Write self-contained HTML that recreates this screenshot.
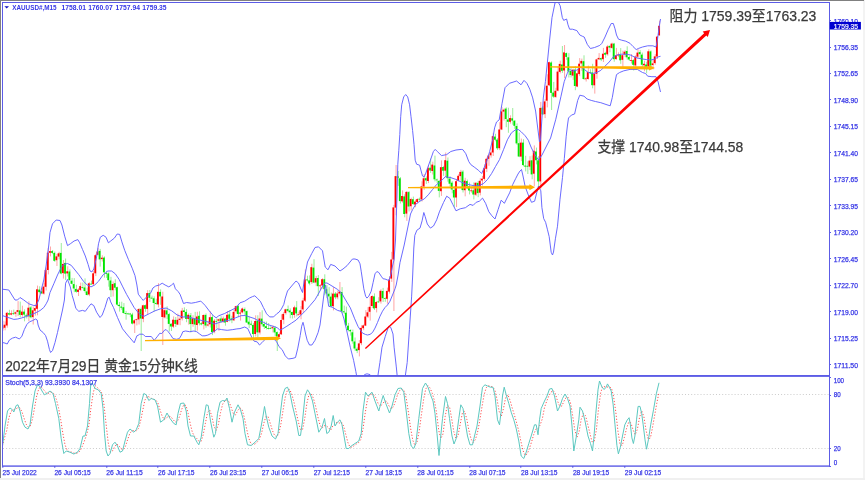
<!DOCTYPE html><html><head><meta charset="utf-8"><style>html,body{margin:0;padding:0;background:#fff;}svg{display:block;filter:blur(0.3px)}</style></head><body>
<svg width="865" height="480" viewBox="0 0 865 480">
<defs><clipPath id="mc"><rect x="3" y="3" width="826" height="372"/></clipPath><clipPath id="sc"><rect x="3" y="377" width="826" height="88"/></clipPath></defs>
<rect x="0" y="0" width="865" height="480" fill="#fff"/>
<rect x="863" y="0" width="2" height="480" fill="#f3f3f3"/>
<rect x="0" y="478" width="865" height="2" fill="#f0f0f0"/>
<rect x="0" y="0" width="864" height="1" fill="#808080"/>
<rect x="0" y="0" width="1" height="478" fill="#808080"/>
<rect x="2" y="2" width="828" height="1" fill="#5c5ce6"/>
<rect x="2" y="2" width="1" height="464.8" fill="#5c5ce6"/>
<rect x="829" y="2" width="1" height="464.8" fill="#5c5ce6"/>
<rect x="2" y="465.4" width="828" height="1.4" fill="#5c5ce6"/>
<rect x="2" y="375" width="827" height="1.9" fill="#5c5ce6"/>
<line x1="3" y1="394.5" x2="829" y2="394.5" stroke="#cccccc" stroke-width="1" stroke-dasharray="1,2.1"/>
<line x1="3" y1="448.5" x2="829" y2="448.5" stroke="#cccccc" stroke-width="1" stroke-dasharray="1,2.1"/>
<g clip-path="url(#mc)">
<line x1="2.96" y1="320.8" x2="2.96" y2="330.7" stroke="#ff9a9a" stroke-width="0.9"/>
<line x1="5.12" y1="321.4" x2="5.12" y2="330.3" stroke="#ff9a9a" stroke-width="0.9"/>
<line x1="7.28" y1="311.9" x2="7.28" y2="327.7" stroke="#ff9a9a" stroke-width="0.9"/>
<line x1="9.44" y1="309.8" x2="9.44" y2="315.4" stroke="#8eea8e" stroke-width="0.9"/>
<line x1="11.60" y1="310.3" x2="11.60" y2="315.3" stroke="#ff9a9a" stroke-width="0.9"/>
<line x1="13.76" y1="309.6" x2="13.76" y2="314.9" stroke="#8eea8e" stroke-width="0.9"/>
<line x1="15.92" y1="311.4" x2="15.92" y2="316.8" stroke="#ff9a9a" stroke-width="0.9"/>
<line x1="18.08" y1="301.1" x2="18.08" y2="316.0" stroke="#ff9a9a" stroke-width="0.9"/>
<line x1="20.24" y1="301.6" x2="20.24" y2="317.3" stroke="#8eea8e" stroke-width="0.9"/>
<line x1="22.40" y1="305.7" x2="22.40" y2="316.8" stroke="#ff9a9a" stroke-width="0.9"/>
<line x1="24.56" y1="309.4" x2="24.56" y2="321.3" stroke="#8eea8e" stroke-width="0.9"/>
<line x1="26.72" y1="313.4" x2="26.72" y2="318.5" stroke="#8eea8e" stroke-width="0.9"/>
<line x1="28.88" y1="301.3" x2="28.88" y2="321.3" stroke="#ff9a9a" stroke-width="0.9"/>
<line x1="31.04" y1="306.0" x2="31.04" y2="318.4" stroke="#8eea8e" stroke-width="0.9"/>
<line x1="33.20" y1="306.6" x2="33.20" y2="324.5" stroke="#ff9a9a" stroke-width="0.9"/>
<line x1="35.36" y1="303.7" x2="35.36" y2="315.6" stroke="#ff9a9a" stroke-width="0.9"/>
<line x1="37.52" y1="285.6" x2="37.52" y2="315.3" stroke="#ff9a9a" stroke-width="0.9"/>
<line x1="39.68" y1="286.3" x2="39.68" y2="293.5" stroke="#8eea8e" stroke-width="0.9"/>
<line x1="41.84" y1="288.0" x2="41.84" y2="294.1" stroke="#8eea8e" stroke-width="0.9"/>
<line x1="44.00" y1="282.9" x2="44.00" y2="294.6" stroke="#ff9a9a" stroke-width="0.9"/>
<line x1="46.16" y1="267.6" x2="46.16" y2="290.5" stroke="#ff9a9a" stroke-width="0.9"/>
<line x1="48.32" y1="248.0" x2="48.32" y2="274.4" stroke="#ff9a9a" stroke-width="0.9"/>
<line x1="50.48" y1="246.5" x2="50.48" y2="256.4" stroke="#ff9a9a" stroke-width="0.9"/>
<line x1="52.64" y1="250.0" x2="52.64" y2="254.1" stroke="#8eea8e" stroke-width="0.9"/>
<line x1="54.80" y1="251.5" x2="54.80" y2="261.9" stroke="#8eea8e" stroke-width="0.9"/>
<line x1="56.96" y1="253.9" x2="56.96" y2="266.0" stroke="#ff9a9a" stroke-width="0.9"/>
<line x1="59.12" y1="251.8" x2="59.12" y2="259.3" stroke="#ff9a9a" stroke-width="0.9"/>
<line x1="61.28" y1="243.0" x2="61.28" y2="274.3" stroke="#8eea8e" stroke-width="0.9"/>
<line x1="63.44" y1="260.0" x2="63.44" y2="278.6" stroke="#ff9a9a" stroke-width="0.9"/>
<line x1="65.60" y1="258.5" x2="65.60" y2="280.0" stroke="#8eea8e" stroke-width="0.9"/>
<line x1="67.76" y1="266.3" x2="67.76" y2="276.5" stroke="#ff9a9a" stroke-width="0.9"/>
<line x1="69.92" y1="269.4" x2="69.92" y2="281.2" stroke="#8eea8e" stroke-width="0.9"/>
<line x1="72.08" y1="277.9" x2="72.08" y2="284.4" stroke="#8eea8e" stroke-width="0.9"/>
<line x1="74.24" y1="278.1" x2="74.24" y2="292.2" stroke="#8eea8e" stroke-width="0.9"/>
<line x1="76.40" y1="284.8" x2="76.40" y2="292.7" stroke="#8eea8e" stroke-width="0.9"/>
<line x1="78.56" y1="288.2" x2="78.56" y2="296.0" stroke="#ff9a9a" stroke-width="0.9"/>
<line x1="80.72" y1="282.6" x2="80.72" y2="291.1" stroke="#ff9a9a" stroke-width="0.9"/>
<line x1="82.88" y1="282.5" x2="82.88" y2="288.7" stroke="#8eea8e" stroke-width="0.9"/>
<line x1="85.04" y1="278.4" x2="85.04" y2="292.6" stroke="#8eea8e" stroke-width="0.9"/>
<line x1="87.20" y1="287.6" x2="87.20" y2="295.5" stroke="#8eea8e" stroke-width="0.9"/>
<line x1="89.36" y1="282.2" x2="89.36" y2="296.2" stroke="#ff9a9a" stroke-width="0.9"/>
<line x1="91.52" y1="280.6" x2="91.52" y2="284.4" stroke="#8eea8e" stroke-width="0.9"/>
<line x1="93.68" y1="271.0" x2="93.68" y2="285.3" stroke="#ff9a9a" stroke-width="0.9"/>
<line x1="95.84" y1="253.9" x2="95.84" y2="276.1" stroke="#ff9a9a" stroke-width="0.9"/>
<line x1="98.00" y1="248.0" x2="98.00" y2="255.3" stroke="#ff9a9a" stroke-width="0.9"/>
<line x1="100.16" y1="248.9" x2="100.16" y2="266.6" stroke="#8eea8e" stroke-width="0.9"/>
<line x1="102.32" y1="255.3" x2="102.32" y2="261.5" stroke="#ff9a9a" stroke-width="0.9"/>
<line x1="104.48" y1="256.4" x2="104.48" y2="277.6" stroke="#8eea8e" stroke-width="0.9"/>
<line x1="106.64" y1="270.9" x2="106.64" y2="277.9" stroke="#8eea8e" stroke-width="0.9"/>
<line x1="108.80" y1="272.2" x2="108.80" y2="286.7" stroke="#8eea8e" stroke-width="0.9"/>
<line x1="110.96" y1="276.8" x2="110.96" y2="297.0" stroke="#8eea8e" stroke-width="0.9"/>
<line x1="113.12" y1="281.4" x2="113.12" y2="296.5" stroke="#ff9a9a" stroke-width="0.9"/>
<line x1="115.28" y1="279.2" x2="115.28" y2="290.3" stroke="#8eea8e" stroke-width="0.9"/>
<line x1="117.44" y1="286.6" x2="117.44" y2="305.9" stroke="#8eea8e" stroke-width="0.9"/>
<line x1="119.60" y1="301.9" x2="119.60" y2="311.6" stroke="#8eea8e" stroke-width="0.9"/>
<line x1="121.76" y1="301.7" x2="121.76" y2="309.8" stroke="#8eea8e" stroke-width="0.9"/>
<line x1="123.92" y1="303.1" x2="123.92" y2="313.8" stroke="#8eea8e" stroke-width="0.9"/>
<line x1="126.08" y1="310.9" x2="126.08" y2="319.7" stroke="#8eea8e" stroke-width="0.9"/>
<line x1="128.24" y1="312.8" x2="128.24" y2="314.9" stroke="#8eea8e" stroke-width="0.9"/>
<line x1="130.40" y1="312.9" x2="130.40" y2="317.2" stroke="#8eea8e" stroke-width="0.9"/>
<line x1="132.56" y1="312.8" x2="132.56" y2="324.4" stroke="#8eea8e" stroke-width="0.9"/>
<line x1="134.72" y1="319.2" x2="134.72" y2="333.0" stroke="#ff9a9a" stroke-width="0.9"/>
<line x1="136.88" y1="318.7" x2="136.88" y2="325.4" stroke="#ff9a9a" stroke-width="0.9"/>
<line x1="139.04" y1="308.0" x2="139.04" y2="324.5" stroke="#ff9a9a" stroke-width="0.9"/>
<line x1="141.20" y1="307.4" x2="141.20" y2="351.0" stroke="#8eea8e" stroke-width="0.9"/>
<line x1="143.36" y1="304.7" x2="143.36" y2="322.2" stroke="#ff9a9a" stroke-width="0.9"/>
<line x1="145.52" y1="304.5" x2="145.52" y2="311.8" stroke="#8eea8e" stroke-width="0.9"/>
<line x1="147.68" y1="290.2" x2="147.68" y2="314.0" stroke="#ff9a9a" stroke-width="0.9"/>
<line x1="149.84" y1="290.0" x2="149.84" y2="302.0" stroke="#8eea8e" stroke-width="0.9"/>
<line x1="152.00" y1="295.6" x2="152.00" y2="298.9" stroke="#8eea8e" stroke-width="0.9"/>
<line x1="154.16" y1="296.4" x2="154.16" y2="311.4" stroke="#8eea8e" stroke-width="0.9"/>
<line x1="156.32" y1="298.7" x2="156.32" y2="304.8" stroke="#8eea8e" stroke-width="0.9"/>
<line x1="158.48" y1="283.2" x2="158.48" y2="307.4" stroke="#ff9a9a" stroke-width="0.9"/>
<line x1="160.64" y1="289.3" x2="160.64" y2="304.8" stroke="#8eea8e" stroke-width="0.9"/>
<line x1="162.80" y1="291.7" x2="162.80" y2="345.0" stroke="#ff9a9a" stroke-width="0.9"/>
<line x1="164.96" y1="308.0" x2="164.96" y2="318.4" stroke="#ff9a9a" stroke-width="0.9"/>
<line x1="167.12" y1="306.3" x2="167.12" y2="319.0" stroke="#8eea8e" stroke-width="0.9"/>
<line x1="169.28" y1="312.8" x2="169.28" y2="331.6" stroke="#8eea8e" stroke-width="0.9"/>
<line x1="171.44" y1="323.3" x2="171.44" y2="331.0" stroke="#8eea8e" stroke-width="0.9"/>
<line x1="173.60" y1="316.4" x2="173.60" y2="327.9" stroke="#ff9a9a" stroke-width="0.9"/>
<line x1="175.76" y1="317.0" x2="175.76" y2="327.0" stroke="#8eea8e" stroke-width="0.9"/>
<line x1="177.92" y1="313.6" x2="177.92" y2="325.1" stroke="#ff9a9a" stroke-width="0.9"/>
<line x1="180.08" y1="316.7" x2="180.08" y2="325.2" stroke="#ff9a9a" stroke-width="0.9"/>
<line x1="182.24" y1="307.9" x2="182.24" y2="320.5" stroke="#ff9a9a" stroke-width="0.9"/>
<line x1="184.40" y1="307.4" x2="184.40" y2="317.0" stroke="#8eea8e" stroke-width="0.9"/>
<line x1="186.56" y1="309.1" x2="186.56" y2="322.2" stroke="#8eea8e" stroke-width="0.9"/>
<line x1="188.72" y1="313.3" x2="188.72" y2="324.6" stroke="#ff9a9a" stroke-width="0.9"/>
<line x1="190.88" y1="313.0" x2="190.88" y2="332.4" stroke="#8eea8e" stroke-width="0.9"/>
<line x1="193.04" y1="315.2" x2="193.04" y2="326.8" stroke="#ff9a9a" stroke-width="0.9"/>
<line x1="195.20" y1="311.9" x2="195.20" y2="331.1" stroke="#8eea8e" stroke-width="0.9"/>
<line x1="197.36" y1="311.8" x2="197.36" y2="330.7" stroke="#ff9a9a" stroke-width="0.9"/>
<line x1="199.52" y1="311.3" x2="199.52" y2="325.4" stroke="#8eea8e" stroke-width="0.9"/>
<line x1="201.68" y1="321.7" x2="201.68" y2="325.3" stroke="#8eea8e" stroke-width="0.9"/>
<line x1="203.84" y1="314.4" x2="203.84" y2="329.4" stroke="#ff9a9a" stroke-width="0.9"/>
<line x1="206.00" y1="313.4" x2="206.00" y2="327.7" stroke="#8eea8e" stroke-width="0.9"/>
<line x1="208.16" y1="320.9" x2="208.16" y2="326.5" stroke="#ff9a9a" stroke-width="0.9"/>
<line x1="210.32" y1="311.3" x2="210.32" y2="327.5" stroke="#ff9a9a" stroke-width="0.9"/>
<line x1="212.48" y1="315.0" x2="212.48" y2="335.1" stroke="#8eea8e" stroke-width="0.9"/>
<line x1="214.64" y1="319.0" x2="214.64" y2="333.3" stroke="#ff9a9a" stroke-width="0.9"/>
<line x1="216.80" y1="318.5" x2="216.80" y2="328.7" stroke="#8eea8e" stroke-width="0.9"/>
<line x1="218.96" y1="318.7" x2="218.96" y2="330.8" stroke="#ff9a9a" stroke-width="0.9"/>
<line x1="221.12" y1="316.2" x2="221.12" y2="322.6" stroke="#8eea8e" stroke-width="0.9"/>
<line x1="223.28" y1="316.6" x2="223.28" y2="322.9" stroke="#ff9a9a" stroke-width="0.9"/>
<line x1="225.44" y1="317.9" x2="225.44" y2="325.7" stroke="#8eea8e" stroke-width="0.9"/>
<line x1="227.60" y1="311.2" x2="227.60" y2="322.2" stroke="#ff9a9a" stroke-width="0.9"/>
<line x1="229.76" y1="310.3" x2="229.76" y2="321.4" stroke="#8eea8e" stroke-width="0.9"/>
<line x1="231.92" y1="315.8" x2="231.92" y2="323.2" stroke="#8eea8e" stroke-width="0.9"/>
<line x1="234.08" y1="309.6" x2="234.08" y2="321.1" stroke="#ff9a9a" stroke-width="0.9"/>
<line x1="236.24" y1="305.6" x2="236.24" y2="313.4" stroke="#ff9a9a" stroke-width="0.9"/>
<line x1="238.40" y1="305.1" x2="238.40" y2="317.1" stroke="#8eea8e" stroke-width="0.9"/>
<line x1="240.56" y1="309.9" x2="240.56" y2="320.6" stroke="#ff9a9a" stroke-width="0.9"/>
<line x1="242.72" y1="307.5" x2="242.72" y2="313.4" stroke="#ff9a9a" stroke-width="0.9"/>
<line x1="244.88" y1="307.5" x2="244.88" y2="314.9" stroke="#8eea8e" stroke-width="0.9"/>
<line x1="247.04" y1="310.5" x2="247.04" y2="323.0" stroke="#8eea8e" stroke-width="0.9"/>
<line x1="249.20" y1="316.2" x2="249.20" y2="328.0" stroke="#8eea8e" stroke-width="0.9"/>
<line x1="251.36" y1="320.6" x2="251.36" y2="325.6" stroke="#8eea8e" stroke-width="0.9"/>
<line x1="253.52" y1="323.1" x2="253.52" y2="339.8" stroke="#8eea8e" stroke-width="0.9"/>
<line x1="255.68" y1="315.3" x2="255.68" y2="336.5" stroke="#ff9a9a" stroke-width="0.9"/>
<line x1="257.84" y1="315.3" x2="257.84" y2="337.1" stroke="#8eea8e" stroke-width="0.9"/>
<line x1="260.00" y1="312.1" x2="260.00" y2="334.5" stroke="#ff9a9a" stroke-width="0.9"/>
<line x1="262.16" y1="310.3" x2="262.16" y2="326.5" stroke="#8eea8e" stroke-width="0.9"/>
<line x1="264.32" y1="321.6" x2="264.32" y2="329.0" stroke="#8eea8e" stroke-width="0.9"/>
<line x1="266.48" y1="321.6" x2="266.48" y2="329.5" stroke="#8eea8e" stroke-width="0.9"/>
<line x1="268.64" y1="323.0" x2="268.64" y2="329.5" stroke="#8eea8e" stroke-width="0.9"/>
<line x1="270.80" y1="326.0" x2="270.80" y2="329.2" stroke="#8eea8e" stroke-width="0.9"/>
<line x1="272.96" y1="325.4" x2="272.96" y2="332.4" stroke="#ff9a9a" stroke-width="0.9"/>
<line x1="275.12" y1="326.0" x2="275.12" y2="335.9" stroke="#8eea8e" stroke-width="0.9"/>
<line x1="277.28" y1="331.4" x2="277.28" y2="351.0" stroke="#8eea8e" stroke-width="0.9"/>
<line x1="279.44" y1="332.4" x2="279.44" y2="337.7" stroke="#ff9a9a" stroke-width="0.9"/>
<line x1="281.60" y1="314.3" x2="281.60" y2="334.9" stroke="#ff9a9a" stroke-width="0.9"/>
<line x1="283.76" y1="312.1" x2="283.76" y2="324.2" stroke="#ff9a9a" stroke-width="0.9"/>
<line x1="285.92" y1="308.7" x2="285.92" y2="314.6" stroke="#ff9a9a" stroke-width="0.9"/>
<line x1="288.08" y1="305.5" x2="288.08" y2="312.2" stroke="#8eea8e" stroke-width="0.9"/>
<line x1="290.24" y1="308.4" x2="290.24" y2="318.3" stroke="#8eea8e" stroke-width="0.9"/>
<line x1="292.40" y1="311.5" x2="292.40" y2="318.5" stroke="#8eea8e" stroke-width="0.9"/>
<line x1="294.56" y1="305.7" x2="294.56" y2="317.7" stroke="#ff9a9a" stroke-width="0.9"/>
<line x1="296.72" y1="301.1" x2="296.72" y2="316.4" stroke="#8eea8e" stroke-width="0.9"/>
<line x1="298.88" y1="311.7" x2="298.88" y2="315.0" stroke="#ff9a9a" stroke-width="0.9"/>
<line x1="301.04" y1="306.1" x2="301.04" y2="319.3" stroke="#ff9a9a" stroke-width="0.9"/>
<line x1="303.20" y1="297.8" x2="303.20" y2="312.7" stroke="#ff9a9a" stroke-width="0.9"/>
<line x1="305.36" y1="269.5" x2="305.36" y2="302.0" stroke="#ff9a9a" stroke-width="0.9"/>
<line x1="307.52" y1="275.7" x2="307.52" y2="281.5" stroke="#8eea8e" stroke-width="0.9"/>
<line x1="309.68" y1="275.4" x2="309.68" y2="285.3" stroke="#8eea8e" stroke-width="0.9"/>
<line x1="311.84" y1="263.8" x2="311.84" y2="284.0" stroke="#ff9a9a" stroke-width="0.9"/>
<line x1="314.00" y1="259.2" x2="314.00" y2="283.2" stroke="#8eea8e" stroke-width="0.9"/>
<line x1="316.16" y1="275.9" x2="316.16" y2="286.1" stroke="#ff9a9a" stroke-width="0.9"/>
<line x1="318.32" y1="275.1" x2="318.32" y2="296.0" stroke="#8eea8e" stroke-width="0.9"/>
<line x1="320.48" y1="284.2" x2="320.48" y2="290.1" stroke="#ff9a9a" stroke-width="0.9"/>
<line x1="322.64" y1="278.2" x2="322.64" y2="288.6" stroke="#ff9a9a" stroke-width="0.9"/>
<line x1="324.80" y1="274.3" x2="324.80" y2="295.2" stroke="#8eea8e" stroke-width="0.9"/>
<line x1="326.96" y1="285.1" x2="326.96" y2="298.2" stroke="#8eea8e" stroke-width="0.9"/>
<line x1="329.12" y1="287.2" x2="329.12" y2="303.1" stroke="#8eea8e" stroke-width="0.9"/>
<line x1="331.28" y1="292.6" x2="331.28" y2="307.4" stroke="#8eea8e" stroke-width="0.9"/>
<line x1="333.44" y1="287.1" x2="333.44" y2="310.4" stroke="#ff9a9a" stroke-width="0.9"/>
<line x1="335.60" y1="292.0" x2="335.60" y2="299.2" stroke="#8eea8e" stroke-width="0.9"/>
<line x1="337.76" y1="290.4" x2="337.76" y2="299.3" stroke="#ff9a9a" stroke-width="0.9"/>
<line x1="339.92" y1="282.0" x2="339.92" y2="295.6" stroke="#ff9a9a" stroke-width="0.9"/>
<line x1="342.08" y1="287.1" x2="342.08" y2="313.1" stroke="#8eea8e" stroke-width="0.9"/>
<line x1="344.24" y1="305.6" x2="344.24" y2="313.9" stroke="#8eea8e" stroke-width="0.9"/>
<line x1="346.40" y1="306.6" x2="346.40" y2="325.8" stroke="#8eea8e" stroke-width="0.9"/>
<line x1="348.56" y1="322.9" x2="348.56" y2="331.3" stroke="#8eea8e" stroke-width="0.9"/>
<line x1="350.72" y1="329.2" x2="350.72" y2="335.6" stroke="#8eea8e" stroke-width="0.9"/>
<line x1="352.88" y1="329.6" x2="352.88" y2="343.7" stroke="#8eea8e" stroke-width="0.9"/>
<line x1="355.04" y1="337.5" x2="355.04" y2="350.7" stroke="#8eea8e" stroke-width="0.9"/>
<line x1="357.20" y1="347.3" x2="357.20" y2="353.1" stroke="#8eea8e" stroke-width="0.9"/>
<line x1="359.36" y1="340.1" x2="359.36" y2="356.4" stroke="#ff9a9a" stroke-width="0.9"/>
<line x1="361.52" y1="325.3" x2="361.52" y2="345.2" stroke="#ff9a9a" stroke-width="0.9"/>
<line x1="363.68" y1="324.5" x2="363.68" y2="330.2" stroke="#ff9a9a" stroke-width="0.9"/>
<line x1="365.84" y1="310.1" x2="365.84" y2="326.1" stroke="#ff9a9a" stroke-width="0.9"/>
<line x1="368.00" y1="307.2" x2="368.00" y2="318.1" stroke="#ff9a9a" stroke-width="0.9"/>
<line x1="370.16" y1="297.0" x2="370.16" y2="320.6" stroke="#ff9a9a" stroke-width="0.9"/>
<line x1="372.32" y1="295.4" x2="372.32" y2="308.0" stroke="#ff9a9a" stroke-width="0.9"/>
<line x1="374.48" y1="293.4" x2="374.48" y2="310.0" stroke="#8eea8e" stroke-width="0.9"/>
<line x1="376.64" y1="301.1" x2="376.64" y2="312.4" stroke="#ff9a9a" stroke-width="0.9"/>
<line x1="378.80" y1="297.2" x2="378.80" y2="302.8" stroke="#8eea8e" stroke-width="0.9"/>
<line x1="380.96" y1="289.3" x2="380.96" y2="303.6" stroke="#ff9a9a" stroke-width="0.9"/>
<line x1="383.12" y1="287.9" x2="383.12" y2="302.0" stroke="#8eea8e" stroke-width="0.9"/>
<line x1="385.28" y1="297.4" x2="385.28" y2="301.8" stroke="#8eea8e" stroke-width="0.9"/>
<line x1="387.44" y1="287.6" x2="387.44" y2="303.7" stroke="#ff9a9a" stroke-width="0.9"/>
<line x1="389.60" y1="276.2" x2="389.60" y2="293.6" stroke="#ff9a9a" stroke-width="0.9"/>
<line x1="391.76" y1="251.8" x2="391.76" y2="281.9" stroke="#ff9a9a" stroke-width="0.9"/>
<line x1="393.92" y1="204.9" x2="393.92" y2="311.0" stroke="#ff9a9a" stroke-width="0.9"/>
<line x1="396.08" y1="165.0" x2="396.08" y2="215.3" stroke="#ff9a9a" stroke-width="0.9"/>
<line x1="398.24" y1="171.0" x2="398.24" y2="185.9" stroke="#8eea8e" stroke-width="0.9"/>
<line x1="400.40" y1="177.0" x2="400.40" y2="203.5" stroke="#8eea8e" stroke-width="0.9"/>
<line x1="402.56" y1="190.4" x2="402.56" y2="202.7" stroke="#ff9a9a" stroke-width="0.9"/>
<line x1="404.72" y1="194.3" x2="404.72" y2="217.3" stroke="#8eea8e" stroke-width="0.9"/>
<line x1="406.88" y1="191.0" x2="406.88" y2="220.9" stroke="#ff9a9a" stroke-width="0.9"/>
<line x1="409.04" y1="191.0" x2="409.04" y2="211.5" stroke="#8eea8e" stroke-width="0.9"/>
<line x1="411.20" y1="197.7" x2="411.20" y2="210.3" stroke="#ff9a9a" stroke-width="0.9"/>
<line x1="413.36" y1="196.6" x2="413.36" y2="204.7" stroke="#8eea8e" stroke-width="0.9"/>
<line x1="415.52" y1="199.6" x2="415.52" y2="207.2" stroke="#ff9a9a" stroke-width="0.9"/>
<line x1="417.68" y1="198.3" x2="417.68" y2="203.5" stroke="#ff9a9a" stroke-width="0.9"/>
<line x1="419.84" y1="197.4" x2="419.84" y2="202.1" stroke="#8eea8e" stroke-width="0.9"/>
<line x1="422.00" y1="181.3" x2="422.00" y2="201.5" stroke="#ff9a9a" stroke-width="0.9"/>
<line x1="424.16" y1="174.0" x2="424.16" y2="189.8" stroke="#ff9a9a" stroke-width="0.9"/>
<line x1="426.32" y1="176.4" x2="426.32" y2="183.9" stroke="#8eea8e" stroke-width="0.9"/>
<line x1="428.48" y1="165.0" x2="428.48" y2="183.1" stroke="#ff9a9a" stroke-width="0.9"/>
<line x1="430.64" y1="158.6" x2="430.64" y2="172.9" stroke="#8eea8e" stroke-width="0.9"/>
<line x1="432.80" y1="161.7" x2="432.80" y2="174.5" stroke="#ff9a9a" stroke-width="0.9"/>
<line x1="434.96" y1="155.6" x2="434.96" y2="181.4" stroke="#8eea8e" stroke-width="0.9"/>
<line x1="437.12" y1="178.6" x2="437.12" y2="183.0" stroke="#8eea8e" stroke-width="0.9"/>
<line x1="439.28" y1="180.1" x2="439.28" y2="197.4" stroke="#8eea8e" stroke-width="0.9"/>
<line x1="441.44" y1="160.4" x2="441.44" y2="195.9" stroke="#ff9a9a" stroke-width="0.9"/>
<line x1="443.60" y1="165.9" x2="443.60" y2="175.8" stroke="#8eea8e" stroke-width="0.9"/>
<line x1="445.76" y1="152.5" x2="445.76" y2="177.4" stroke="#ff9a9a" stroke-width="0.9"/>
<line x1="447.92" y1="157.5" x2="447.92" y2="181.7" stroke="#8eea8e" stroke-width="0.9"/>
<line x1="450.08" y1="176.3" x2="450.08" y2="186.5" stroke="#8eea8e" stroke-width="0.9"/>
<line x1="452.24" y1="181.2" x2="452.24" y2="193.3" stroke="#8eea8e" stroke-width="0.9"/>
<line x1="454.40" y1="186.2" x2="454.40" y2="206.7" stroke="#8eea8e" stroke-width="0.9"/>
<line x1="456.56" y1="179.0" x2="456.56" y2="207.1" stroke="#ff9a9a" stroke-width="0.9"/>
<line x1="458.72" y1="174.1" x2="458.72" y2="181.5" stroke="#ff9a9a" stroke-width="0.9"/>
<line x1="460.88" y1="169.9" x2="460.88" y2="180.7" stroke="#ff9a9a" stroke-width="0.9"/>
<line x1="463.04" y1="170.2" x2="463.04" y2="192.5" stroke="#8eea8e" stroke-width="0.9"/>
<line x1="465.20" y1="177.8" x2="465.20" y2="196.3" stroke="#ff9a9a" stroke-width="0.9"/>
<line x1="467.36" y1="179.6" x2="467.36" y2="188.9" stroke="#8eea8e" stroke-width="0.9"/>
<line x1="469.52" y1="182.5" x2="469.52" y2="194.4" stroke="#8eea8e" stroke-width="0.9"/>
<line x1="471.68" y1="188.0" x2="471.68" y2="192.8" stroke="#ff9a9a" stroke-width="0.9"/>
<line x1="473.84" y1="182.4" x2="473.84" y2="199.4" stroke="#8eea8e" stroke-width="0.9"/>
<line x1="476.00" y1="182.2" x2="476.00" y2="196.1" stroke="#ff9a9a" stroke-width="0.9"/>
<line x1="478.16" y1="180.9" x2="478.16" y2="197.2" stroke="#8eea8e" stroke-width="0.9"/>
<line x1="480.32" y1="178.2" x2="480.32" y2="195.4" stroke="#ff9a9a" stroke-width="0.9"/>
<line x1="482.48" y1="175.9" x2="482.48" y2="185.6" stroke="#ff9a9a" stroke-width="0.9"/>
<line x1="484.64" y1="164.1" x2="484.64" y2="180.7" stroke="#ff9a9a" stroke-width="0.9"/>
<line x1="486.80" y1="157.6" x2="486.80" y2="172.1" stroke="#ff9a9a" stroke-width="0.9"/>
<line x1="488.96" y1="154.5" x2="488.96" y2="165.8" stroke="#ff9a9a" stroke-width="0.9"/>
<line x1="491.12" y1="151.4" x2="491.12" y2="157.6" stroke="#ff9a9a" stroke-width="0.9"/>
<line x1="493.28" y1="132.9" x2="493.28" y2="156.0" stroke="#ff9a9a" stroke-width="0.9"/>
<line x1="495.44" y1="133.8" x2="495.44" y2="141.3" stroke="#8eea8e" stroke-width="0.9"/>
<line x1="497.60" y1="138.1" x2="497.60" y2="150.0" stroke="#8eea8e" stroke-width="0.9"/>
<line x1="499.76" y1="122.1" x2="499.76" y2="150.1" stroke="#ff9a9a" stroke-width="0.9"/>
<line x1="501.92" y1="106.9" x2="501.92" y2="130.1" stroke="#ff9a9a" stroke-width="0.9"/>
<line x1="504.08" y1="108.5" x2="504.08" y2="120.6" stroke="#ff9a9a" stroke-width="0.9"/>
<line x1="506.24" y1="107.3" x2="506.24" y2="127.2" stroke="#8eea8e" stroke-width="0.9"/>
<line x1="508.40" y1="107.7" x2="508.40" y2="132.8" stroke="#8eea8e" stroke-width="0.9"/>
<line x1="510.56" y1="115.3" x2="510.56" y2="123.6" stroke="#ff9a9a" stroke-width="0.9"/>
<line x1="512.72" y1="108.0" x2="512.72" y2="124.7" stroke="#8eea8e" stroke-width="0.9"/>
<line x1="514.88" y1="120.1" x2="514.88" y2="128.9" stroke="#8eea8e" stroke-width="0.9"/>
<line x1="517.04" y1="123.4" x2="517.04" y2="144.9" stroke="#8eea8e" stroke-width="0.9"/>
<line x1="519.20" y1="132.6" x2="519.20" y2="157.2" stroke="#8eea8e" stroke-width="0.9"/>
<line x1="521.36" y1="138.6" x2="521.36" y2="161.1" stroke="#ff9a9a" stroke-width="0.9"/>
<line x1="523.52" y1="139.2" x2="523.52" y2="166.3" stroke="#8eea8e" stroke-width="0.9"/>
<line x1="525.68" y1="155.8" x2="525.68" y2="171.4" stroke="#8eea8e" stroke-width="0.9"/>
<line x1="527.84" y1="161.3" x2="527.84" y2="174.0" stroke="#8eea8e" stroke-width="0.9"/>
<line x1="530.00" y1="156.2" x2="530.00" y2="170.1" stroke="#ff9a9a" stroke-width="0.9"/>
<line x1="532.16" y1="155.5" x2="532.16" y2="179.3" stroke="#8eea8e" stroke-width="0.9"/>
<line x1="534.32" y1="145.4" x2="534.32" y2="186.4" stroke="#ff9a9a" stroke-width="0.9"/>
<line x1="536.48" y1="147.6" x2="536.48" y2="164.4" stroke="#8eea8e" stroke-width="0.9"/>
<line x1="538.64" y1="156.1" x2="538.64" y2="188.5" stroke="#8eea8e" stroke-width="0.9"/>
<line x1="540.80" y1="101.9" x2="540.80" y2="188.5" stroke="#ff9a9a" stroke-width="0.9"/>
<line x1="542.96" y1="106.1" x2="542.96" y2="114.9" stroke="#8eea8e" stroke-width="0.9"/>
<line x1="545.12" y1="99.3" x2="545.12" y2="118.1" stroke="#ff9a9a" stroke-width="0.9"/>
<line x1="547.28" y1="74.3" x2="547.28" y2="107.4" stroke="#ff9a9a" stroke-width="0.9"/>
<line x1="549.44" y1="61.6" x2="549.44" y2="86.2" stroke="#ff9a9a" stroke-width="0.9"/>
<line x1="551.60" y1="61.4" x2="551.60" y2="110.0" stroke="#8eea8e" stroke-width="0.9"/>
<line x1="553.76" y1="81.9" x2="553.76" y2="98.0" stroke="#8eea8e" stroke-width="0.9"/>
<line x1="555.92" y1="87.8" x2="555.92" y2="97.9" stroke="#ff9a9a" stroke-width="0.9"/>
<line x1="558.08" y1="66.7" x2="558.08" y2="91.3" stroke="#ff9a9a" stroke-width="0.9"/>
<line x1="560.24" y1="60.7" x2="560.24" y2="73.4" stroke="#ff9a9a" stroke-width="0.9"/>
<line x1="562.40" y1="46.0" x2="562.40" y2="72.9" stroke="#8eea8e" stroke-width="0.9"/>
<line x1="564.56" y1="45.0" x2="564.56" y2="78.1" stroke="#ff9a9a" stroke-width="0.9"/>
<line x1="566.72" y1="52.5" x2="566.72" y2="59.9" stroke="#8eea8e" stroke-width="0.9"/>
<line x1="568.88" y1="53.1" x2="568.88" y2="77.5" stroke="#8eea8e" stroke-width="0.9"/>
<line x1="571.04" y1="67.6" x2="571.04" y2="77.5" stroke="#8eea8e" stroke-width="0.9"/>
<line x1="573.20" y1="68.7" x2="573.20" y2="79.9" stroke="#ff9a9a" stroke-width="0.9"/>
<line x1="575.36" y1="66.1" x2="575.36" y2="90.2" stroke="#8eea8e" stroke-width="0.9"/>
<line x1="577.52" y1="70.0" x2="577.52" y2="87.1" stroke="#ff9a9a" stroke-width="0.9"/>
<line x1="579.68" y1="58.1" x2="579.68" y2="76.1" stroke="#ff9a9a" stroke-width="0.9"/>
<line x1="581.84" y1="58.6" x2="581.84" y2="70.9" stroke="#ff9a9a" stroke-width="0.9"/>
<line x1="584.00" y1="55.3" x2="584.00" y2="79.9" stroke="#8eea8e" stroke-width="0.9"/>
<line x1="586.16" y1="77.1" x2="586.16" y2="81.5" stroke="#ff9a9a" stroke-width="0.9"/>
<line x1="588.32" y1="65.6" x2="588.32" y2="79.7" stroke="#ff9a9a" stroke-width="0.9"/>
<line x1="590.48" y1="69.3" x2="590.48" y2="74.0" stroke="#8eea8e" stroke-width="0.9"/>
<line x1="592.64" y1="63.8" x2="592.64" y2="88.3" stroke="#8eea8e" stroke-width="0.9"/>
<line x1="594.80" y1="66.9" x2="594.80" y2="93.6" stroke="#ff9a9a" stroke-width="0.9"/>
<line x1="596.96" y1="58.7" x2="596.96" y2="78.7" stroke="#ff9a9a" stroke-width="0.9"/>
<line x1="599.12" y1="53.1" x2="599.12" y2="60.1" stroke="#ff9a9a" stroke-width="0.9"/>
<line x1="601.28" y1="57.5" x2="601.28" y2="61.1" stroke="#8eea8e" stroke-width="0.9"/>
<line x1="603.44" y1="47.9" x2="603.44" y2="62.0" stroke="#ff9a9a" stroke-width="0.9"/>
<line x1="605.60" y1="51.8" x2="605.60" y2="57.8" stroke="#8eea8e" stroke-width="0.9"/>
<line x1="607.76" y1="44.9" x2="607.76" y2="55.7" stroke="#ff9a9a" stroke-width="0.9"/>
<line x1="609.92" y1="45.1" x2="609.92" y2="52.3" stroke="#8eea8e" stroke-width="0.9"/>
<line x1="612.08" y1="42.7" x2="612.08" y2="48.8" stroke="#ff9a9a" stroke-width="0.9"/>
<line x1="614.24" y1="42.9" x2="614.24" y2="61.7" stroke="#8eea8e" stroke-width="0.9"/>
<line x1="616.40" y1="47.9" x2="616.40" y2="59.7" stroke="#ff9a9a" stroke-width="0.9"/>
<line x1="618.56" y1="52.4" x2="618.56" y2="57.2" stroke="#ff9a9a" stroke-width="0.9"/>
<line x1="620.72" y1="48.1" x2="620.72" y2="63.8" stroke="#8eea8e" stroke-width="0.9"/>
<line x1="622.88" y1="50.7" x2="622.88" y2="67.2" stroke="#ff9a9a" stroke-width="0.9"/>
<line x1="625.04" y1="50.2" x2="625.04" y2="56.8" stroke="#ff9a9a" stroke-width="0.9"/>
<line x1="627.20" y1="46.3" x2="627.20" y2="59.6" stroke="#8eea8e" stroke-width="0.9"/>
<line x1="629.36" y1="55.5" x2="629.36" y2="61.0" stroke="#8eea8e" stroke-width="0.9"/>
<line x1="631.52" y1="54.0" x2="631.52" y2="63.5" stroke="#ff9a9a" stroke-width="0.9"/>
<line x1="633.68" y1="59.1" x2="633.68" y2="70.5" stroke="#8eea8e" stroke-width="0.9"/>
<line x1="635.84" y1="55.2" x2="635.84" y2="67.2" stroke="#ff9a9a" stroke-width="0.9"/>
<line x1="638.00" y1="49.0" x2="638.00" y2="58.7" stroke="#ff9a9a" stroke-width="0.9"/>
<line x1="640.16" y1="50.1" x2="640.16" y2="59.1" stroke="#8eea8e" stroke-width="0.9"/>
<line x1="642.32" y1="52.6" x2="642.32" y2="68.7" stroke="#8eea8e" stroke-width="0.9"/>
<line x1="644.48" y1="60.7" x2="644.48" y2="71.2" stroke="#ff9a9a" stroke-width="0.9"/>
<line x1="646.64" y1="61.7" x2="646.64" y2="73.3" stroke="#8eea8e" stroke-width="0.9"/>
<line x1="648.80" y1="49.3" x2="648.80" y2="68.1" stroke="#ff9a9a" stroke-width="0.9"/>
<line x1="650.96" y1="50.4" x2="650.96" y2="69.1" stroke="#8eea8e" stroke-width="0.9"/>
<line x1="653.12" y1="59.3" x2="653.12" y2="69.4" stroke="#ff9a9a" stroke-width="0.9"/>
<line x1="655.28" y1="54.2" x2="655.28" y2="64.7" stroke="#ff9a9a" stroke-width="0.9"/>
<line x1="657.44" y1="36.0" x2="657.44" y2="59.0" stroke="#ff9a9a" stroke-width="0.9"/>
<line x1="659.60" y1="20.7" x2="659.60" y2="35.8" stroke="#ff9a9a" stroke-width="0.9"/>
<rect x="1.46" y="326.7" width="1.8" height="2.0" fill="#ff0000"/>
<rect x="3.62" y="324.7" width="1.8" height="3.0" fill="#ff0000"/>
<rect x="5.78" y="312.8" width="1.8" height="12.7" fill="#ff0000"/>
<rect x="7.94" y="313.2" width="1.8" height="1.4" fill="#00e600"/>
<rect x="10.10" y="313.3" width="1.8" height="1.3" fill="#ff0000"/>
<rect x="12.26" y="313.3" width="1.8" height="0.8" fill="#00e600"/>
<rect x="14.42" y="312.3" width="1.8" height="1.4" fill="#ff0000"/>
<rect x="16.58" y="310.1" width="1.8" height="1.8" fill="#ff0000"/>
<rect x="18.74" y="310.4" width="1.8" height="4.4" fill="#00e600"/>
<rect x="20.90" y="311.6" width="1.8" height="3.4" fill="#ff0000"/>
<rect x="23.06" y="311.6" width="1.8" height="3.0" fill="#00e600"/>
<rect x="25.22" y="314.9" width="1.8" height="0.8" fill="#00e600"/>
<rect x="27.38" y="307.7" width="1.8" height="8.6" fill="#ff0000"/>
<rect x="29.54" y="307.4" width="1.8" height="9.9" fill="#00e600"/>
<rect x="31.70" y="310.3" width="1.8" height="6.8" fill="#ff0000"/>
<rect x="33.86" y="308.1" width="1.8" height="2.6" fill="#ff0000"/>
<rect x="36.02" y="289.3" width="1.8" height="19.5" fill="#ff0000"/>
<rect x="38.18" y="289.6" width="1.8" height="2.5" fill="#00e600"/>
<rect x="40.34" y="291.3" width="1.8" height="2.1" fill="#00e600"/>
<rect x="42.50" y="286.6" width="1.8" height="7.0" fill="#ff0000"/>
<rect x="44.66" y="269.9" width="1.8" height="16.9" fill="#ff0000"/>
<rect x="46.82" y="252.7" width="1.8" height="17.3" fill="#ff0000"/>
<rect x="48.98" y="251.1" width="1.8" height="1.7" fill="#ff0000"/>
<rect x="51.14" y="251.1" width="1.8" height="1.8" fill="#00e600"/>
<rect x="53.30" y="252.9" width="1.8" height="7.9" fill="#00e600"/>
<rect x="55.46" y="256.4" width="1.8" height="3.8" fill="#ff0000"/>
<rect x="57.62" y="253.3" width="1.8" height="3.3" fill="#ff0000"/>
<rect x="59.78" y="252.9" width="1.8" height="20.6" fill="#00e600"/>
<rect x="61.94" y="263.9" width="1.8" height="9.2" fill="#ff0000"/>
<rect x="64.10" y="262.9" width="1.8" height="10.7" fill="#00e600"/>
<rect x="66.26" y="271.3" width="1.8" height="2.1" fill="#ff0000"/>
<rect x="68.42" y="271.5" width="1.8" height="8.6" fill="#00e600"/>
<rect x="70.58" y="280.7" width="1.8" height="3.1" fill="#00e600"/>
<rect x="72.74" y="284.1" width="1.8" height="4.4" fill="#00e600"/>
<rect x="74.90" y="288.9" width="1.8" height="2.8" fill="#00e600"/>
<rect x="77.06" y="289.6" width="1.8" height="2.3" fill="#ff0000"/>
<rect x="79.22" y="286.1" width="1.8" height="3.8" fill="#ff0000"/>
<rect x="81.38" y="287.1" width="1.8" height="0.8" fill="#00e600"/>
<rect x="83.54" y="287.5" width="1.8" height="3.5" fill="#00e600"/>
<rect x="85.70" y="291.4" width="1.8" height="3.6" fill="#00e600"/>
<rect x="87.86" y="283.3" width="1.8" height="11.2" fill="#ff0000"/>
<rect x="90.02" y="283.7" width="1.8" height="0.8" fill="#00e600"/>
<rect x="92.18" y="273.3" width="1.8" height="10.9" fill="#ff0000"/>
<rect x="94.34" y="255.2" width="1.8" height="18.1" fill="#ff0000"/>
<rect x="96.50" y="251.5" width="1.8" height="3.3" fill="#ff0000"/>
<rect x="98.66" y="250.9" width="1.8" height="8.5" fill="#00e600"/>
<rect x="100.82" y="257.7" width="1.8" height="1.4" fill="#ff0000"/>
<rect x="102.98" y="257.6" width="1.8" height="14.7" fill="#00e600"/>
<rect x="105.14" y="273.1" width="1.8" height="0.8" fill="#00e600"/>
<rect x="107.30" y="273.4" width="1.8" height="6.8" fill="#00e600"/>
<rect x="109.46" y="280.5" width="1.8" height="9.7" fill="#00e600"/>
<rect x="111.62" y="284.0" width="1.8" height="6.2" fill="#ff0000"/>
<rect x="113.78" y="283.2" width="1.8" height="4.5" fill="#00e600"/>
<rect x="115.94" y="287.2" width="1.8" height="17.4" fill="#00e600"/>
<rect x="118.10" y="304.8" width="1.8" height="1.3" fill="#00e600"/>
<rect x="120.26" y="306.6" width="1.8" height="1.1" fill="#00e600"/>
<rect x="122.42" y="307.2" width="1.8" height="5.8" fill="#00e600"/>
<rect x="124.58" y="313.0" width="1.8" height="0.9" fill="#00e600"/>
<rect x="126.74" y="313.4" width="1.8" height="0.8" fill="#00e600"/>
<rect x="128.90" y="313.6" width="1.8" height="0.8" fill="#00e600"/>
<rect x="131.06" y="314.5" width="1.8" height="9.1" fill="#00e600"/>
<rect x="133.22" y="320.3" width="1.8" height="3.1" fill="#ff0000"/>
<rect x="135.38" y="319.3" width="1.8" height="0.8" fill="#ff0000"/>
<rect x="137.54" y="309.0" width="1.8" height="10.4" fill="#ff0000"/>
<rect x="139.70" y="308.9" width="1.8" height="9.6" fill="#00e600"/>
<rect x="141.86" y="305.3" width="1.8" height="13.5" fill="#ff0000"/>
<rect x="144.02" y="305.2" width="1.8" height="3.6" fill="#00e600"/>
<rect x="146.18" y="293.1" width="1.8" height="15.8" fill="#ff0000"/>
<rect x="148.34" y="293.0" width="1.8" height="4.8" fill="#00e600"/>
<rect x="150.50" y="297.7" width="1.8" height="0.8" fill="#00e600"/>
<rect x="152.66" y="298.3" width="1.8" height="4.7" fill="#00e600"/>
<rect x="154.82" y="302.9" width="1.8" height="1.0" fill="#00e600"/>
<rect x="156.98" y="291.8" width="1.8" height="12.6" fill="#ff0000"/>
<rect x="159.14" y="291.9" width="1.8" height="4.5" fill="#00e600"/>
<rect x="161.30" y="296.5" width="1.8" height="20.5" fill="#ff0000"/>
<rect x="163.46" y="310.2" width="1.8" height="7.2" fill="#ff0000"/>
<rect x="165.62" y="310.4" width="1.8" height="4.1" fill="#00e600"/>
<rect x="167.78" y="314.1" width="1.8" height="9.8" fill="#00e600"/>
<rect x="169.94" y="323.8" width="1.8" height="2.7" fill="#00e600"/>
<rect x="172.10" y="319.7" width="1.8" height="6.9" fill="#ff0000"/>
<rect x="174.26" y="319.9" width="1.8" height="4.0" fill="#00e600"/>
<rect x="176.42" y="319.8" width="1.8" height="4.8" fill="#ff0000"/>
<rect x="178.58" y="318.7" width="1.8" height="1.2" fill="#ff0000"/>
<rect x="180.74" y="310.7" width="1.8" height="7.7" fill="#ff0000"/>
<rect x="182.90" y="310.4" width="1.8" height="1.6" fill="#00e600"/>
<rect x="185.06" y="311.9" width="1.8" height="7.0" fill="#00e600"/>
<rect x="187.22" y="314.8" width="1.8" height="4.1" fill="#ff0000"/>
<rect x="189.38" y="315.3" width="1.8" height="8.8" fill="#00e600"/>
<rect x="191.54" y="318.4" width="1.8" height="5.7" fill="#ff0000"/>
<rect x="193.70" y="318.4" width="1.8" height="6.1" fill="#00e600"/>
<rect x="195.86" y="316.5" width="1.8" height="8.5" fill="#ff0000"/>
<rect x="198.02" y="315.8" width="1.8" height="7.5" fill="#00e600"/>
<rect x="200.18" y="323.3" width="1.8" height="1.1" fill="#00e600"/>
<rect x="202.34" y="315.0" width="1.8" height="9.0" fill="#ff0000"/>
<rect x="204.50" y="314.9" width="1.8" height="10.6" fill="#00e600"/>
<rect x="206.66" y="324.5" width="1.8" height="1.0" fill="#ff0000"/>
<rect x="208.82" y="317.2" width="1.8" height="7.1" fill="#ff0000"/>
<rect x="210.98" y="317.1" width="1.8" height="15.0" fill="#00e600"/>
<rect x="213.14" y="320.7" width="1.8" height="11.1" fill="#ff0000"/>
<rect x="215.30" y="320.9" width="1.8" height="0.8" fill="#00e600"/>
<rect x="217.46" y="319.3" width="1.8" height="1.4" fill="#ff0000"/>
<rect x="219.62" y="318.5" width="1.8" height="3.0" fill="#00e600"/>
<rect x="221.78" y="318.5" width="1.8" height="3.1" fill="#ff0000"/>
<rect x="223.94" y="318.6" width="1.8" height="3.9" fill="#00e600"/>
<rect x="226.10" y="314.8" width="1.8" height="7.0" fill="#ff0000"/>
<rect x="228.26" y="314.4" width="1.8" height="4.4" fill="#00e600"/>
<rect x="230.42" y="318.5" width="1.8" height="1.7" fill="#00e600"/>
<rect x="232.58" y="311.9" width="1.8" height="8.4" fill="#ff0000"/>
<rect x="234.74" y="306.2" width="1.8" height="5.1" fill="#ff0000"/>
<rect x="236.90" y="306.0" width="1.8" height="8.0" fill="#00e600"/>
<rect x="239.06" y="312.6" width="1.8" height="1.0" fill="#ff0000"/>
<rect x="241.22" y="308.5" width="1.8" height="3.9" fill="#ff0000"/>
<rect x="243.38" y="309.1" width="1.8" height="2.2" fill="#00e600"/>
<rect x="245.54" y="311.1" width="1.8" height="11.4" fill="#00e600"/>
<rect x="247.70" y="321.7" width="1.8" height="2.7" fill="#00e600"/>
<rect x="249.86" y="323.7" width="1.8" height="1.0" fill="#00e600"/>
<rect x="252.02" y="324.9" width="1.8" height="9.2" fill="#00e600"/>
<rect x="254.18" y="321.0" width="1.8" height="13.0" fill="#ff0000"/>
<rect x="256.34" y="320.6" width="1.8" height="11.8" fill="#00e600"/>
<rect x="258.50" y="318.5" width="1.8" height="14.0" fill="#ff0000"/>
<rect x="260.66" y="318.6" width="1.8" height="5.6" fill="#00e600"/>
<rect x="262.82" y="324.0" width="1.8" height="2.6" fill="#00e600"/>
<rect x="264.98" y="326.2" width="1.8" height="1.8" fill="#00e600"/>
<rect x="267.14" y="328.1" width="1.8" height="0.8" fill="#00e600"/>
<rect x="269.30" y="328.1" width="1.8" height="0.8" fill="#00e600"/>
<rect x="271.46" y="327.2" width="1.8" height="1.1" fill="#ff0000"/>
<rect x="273.62" y="327.7" width="1.8" height="4.7" fill="#00e600"/>
<rect x="275.78" y="332.1" width="1.8" height="4.2" fill="#00e600"/>
<rect x="277.94" y="334.2" width="1.8" height="2.7" fill="#ff0000"/>
<rect x="280.10" y="320.0" width="1.8" height="14.3" fill="#ff0000"/>
<rect x="282.26" y="313.9" width="1.8" height="5.8" fill="#ff0000"/>
<rect x="284.42" y="309.3" width="1.8" height="3.8" fill="#ff0000"/>
<rect x="286.58" y="309.1" width="1.8" height="1.7" fill="#00e600"/>
<rect x="288.74" y="310.5" width="1.8" height="1.8" fill="#00e600"/>
<rect x="290.90" y="312.0" width="1.8" height="3.0" fill="#00e600"/>
<rect x="293.06" y="307.3" width="1.8" height="7.6" fill="#ff0000"/>
<rect x="295.22" y="307.4" width="1.8" height="6.0" fill="#00e600"/>
<rect x="297.38" y="314.4" width="1.8" height="0.8" fill="#ff0000"/>
<rect x="299.54" y="310.2" width="1.8" height="4.3" fill="#ff0000"/>
<rect x="301.70" y="300.5" width="1.8" height="8.9" fill="#ff0000"/>
<rect x="303.86" y="279.4" width="1.8" height="21.3" fill="#ff0000"/>
<rect x="306.02" y="279.5" width="1.8" height="0.8" fill="#00e600"/>
<rect x="308.18" y="280.4" width="1.8" height="3.1" fill="#00e600"/>
<rect x="310.34" y="267.2" width="1.8" height="14.9" fill="#ff0000"/>
<rect x="312.50" y="267.6" width="1.8" height="15.0" fill="#00e600"/>
<rect x="314.66" y="278.2" width="1.8" height="4.3" fill="#ff0000"/>
<rect x="316.82" y="278.0" width="1.8" height="8.2" fill="#00e600"/>
<rect x="318.98" y="285.4" width="1.8" height="0.8" fill="#ff0000"/>
<rect x="321.14" y="279.2" width="1.8" height="6.3" fill="#ff0000"/>
<rect x="323.30" y="279.2" width="1.8" height="10.0" fill="#00e600"/>
<rect x="325.46" y="289.3" width="1.8" height="4.2" fill="#00e600"/>
<rect x="327.62" y="293.7" width="1.8" height="2.7" fill="#00e600"/>
<rect x="329.78" y="296.6" width="1.8" height="9.6" fill="#00e600"/>
<rect x="331.94" y="293.6" width="1.8" height="12.5" fill="#ff0000"/>
<rect x="334.10" y="293.6" width="1.8" height="3.7" fill="#00e600"/>
<rect x="336.26" y="293.5" width="1.8" height="3.8" fill="#ff0000"/>
<rect x="338.42" y="291.7" width="1.8" height="1.8" fill="#ff0000"/>
<rect x="340.58" y="292.0" width="1.8" height="19.4" fill="#00e600"/>
<rect x="342.74" y="311.3" width="1.8" height="1.0" fill="#00e600"/>
<rect x="344.90" y="312.7" width="1.8" height="12.6" fill="#00e600"/>
<rect x="347.06" y="325.7" width="1.8" height="4.4" fill="#00e600"/>
<rect x="349.22" y="330.0" width="1.8" height="1.3" fill="#00e600"/>
<rect x="351.38" y="332.3" width="1.8" height="9.0" fill="#00e600"/>
<rect x="353.54" y="341.5" width="1.8" height="7.0" fill="#00e600"/>
<rect x="355.70" y="348.8" width="1.8" height="2.0" fill="#00e600"/>
<rect x="357.86" y="343.4" width="1.8" height="6.7" fill="#ff0000"/>
<rect x="360.02" y="327.9" width="1.8" height="15.3" fill="#ff0000"/>
<rect x="362.18" y="325.4" width="1.8" height="2.8" fill="#ff0000"/>
<rect x="364.34" y="316.5" width="1.8" height="9.1" fill="#ff0000"/>
<rect x="366.50" y="312.3" width="1.8" height="4.3" fill="#ff0000"/>
<rect x="368.66" y="306.8" width="1.8" height="5.0" fill="#ff0000"/>
<rect x="370.82" y="296.0" width="1.8" height="10.0" fill="#ff0000"/>
<rect x="372.98" y="296.4" width="1.8" height="12.0" fill="#00e600"/>
<rect x="375.14" y="302.0" width="1.8" height="6.1" fill="#ff0000"/>
<rect x="377.30" y="301.5" width="1.8" height="0.8" fill="#00e600"/>
<rect x="379.46" y="290.8" width="1.8" height="10.6" fill="#ff0000"/>
<rect x="381.62" y="291.0" width="1.8" height="7.2" fill="#00e600"/>
<rect x="383.78" y="298.1" width="1.8" height="0.8" fill="#00e600"/>
<rect x="385.94" y="290.9" width="1.8" height="7.9" fill="#ff0000"/>
<rect x="388.10" y="279.6" width="1.8" height="12.0" fill="#ff0000"/>
<rect x="390.26" y="259.5" width="1.8" height="19.1" fill="#ff0000"/>
<rect x="392.42" y="207.4" width="1.8" height="52.1" fill="#ff0000"/>
<rect x="394.58" y="176.1" width="1.8" height="31.5" fill="#ff0000"/>
<rect x="396.74" y="176.2" width="1.8" height="1.8" fill="#00e600"/>
<rect x="398.90" y="178.3" width="1.8" height="22.8" fill="#00e600"/>
<rect x="401.06" y="196.0" width="1.8" height="5.3" fill="#ff0000"/>
<rect x="403.22" y="196.4" width="1.8" height="17.6" fill="#00e600"/>
<rect x="405.38" y="191.9" width="1.8" height="21.7" fill="#ff0000"/>
<rect x="407.54" y="192.1" width="1.8" height="14.4" fill="#00e600"/>
<rect x="409.70" y="199.0" width="1.8" height="7.2" fill="#ff0000"/>
<rect x="411.86" y="199.2" width="1.8" height="4.9" fill="#00e600"/>
<rect x="414.02" y="201.6" width="1.8" height="3.0" fill="#ff0000"/>
<rect x="416.18" y="199.1" width="1.8" height="2.9" fill="#ff0000"/>
<rect x="418.34" y="198.8" width="1.8" height="0.8" fill="#00e600"/>
<rect x="420.50" y="186.4" width="1.8" height="13.0" fill="#ff0000"/>
<rect x="422.66" y="178.3" width="1.8" height="8.2" fill="#ff0000"/>
<rect x="424.82" y="178.2" width="1.8" height="2.2" fill="#00e600"/>
<rect x="426.98" y="168.1" width="1.8" height="12.9" fill="#ff0000"/>
<rect x="429.14" y="167.7" width="1.8" height="2.8" fill="#00e600"/>
<rect x="431.30" y="164.6" width="1.8" height="6.4" fill="#ff0000"/>
<rect x="433.46" y="165.5" width="1.8" height="13.8" fill="#00e600"/>
<rect x="435.62" y="179.5" width="1.8" height="0.8" fill="#00e600"/>
<rect x="437.78" y="180.9" width="1.8" height="10.0" fill="#00e600"/>
<rect x="439.94" y="167.2" width="1.8" height="24.0" fill="#ff0000"/>
<rect x="442.10" y="167.0" width="1.8" height="3.7" fill="#00e600"/>
<rect x="444.26" y="160.2" width="1.8" height="10.5" fill="#ff0000"/>
<rect x="446.42" y="160.7" width="1.8" height="17.5" fill="#00e600"/>
<rect x="448.58" y="178.6" width="1.8" height="5.1" fill="#00e600"/>
<rect x="450.74" y="182.7" width="1.8" height="6.8" fill="#00e600"/>
<rect x="452.90" y="189.9" width="1.8" height="7.6" fill="#00e600"/>
<rect x="455.06" y="181.2" width="1.8" height="16.3" fill="#ff0000"/>
<rect x="457.22" y="175.8" width="1.8" height="5.0" fill="#ff0000"/>
<rect x="459.38" y="171.9" width="1.8" height="4.2" fill="#ff0000"/>
<rect x="461.54" y="171.6" width="1.8" height="18.5" fill="#00e600"/>
<rect x="463.70" y="180.7" width="1.8" height="9.5" fill="#ff0000"/>
<rect x="465.86" y="181.1" width="1.8" height="5.3" fill="#00e600"/>
<rect x="468.02" y="186.5" width="1.8" height="4.0" fill="#00e600"/>
<rect x="470.18" y="190.4" width="1.8" height="0.8" fill="#ff0000"/>
<rect x="472.34" y="190.3" width="1.8" height="4.2" fill="#00e600"/>
<rect x="474.50" y="182.8" width="1.8" height="11.9" fill="#ff0000"/>
<rect x="476.66" y="182.9" width="1.8" height="10.2" fill="#00e600"/>
<rect x="478.82" y="180.8" width="1.8" height="11.9" fill="#ff0000"/>
<rect x="480.98" y="178.7" width="1.8" height="1.7" fill="#ff0000"/>
<rect x="483.14" y="168.3" width="1.8" height="10.6" fill="#ff0000"/>
<rect x="485.30" y="158.8" width="1.8" height="10.0" fill="#ff0000"/>
<rect x="487.46" y="155.5" width="1.8" height="3.3" fill="#ff0000"/>
<rect x="489.62" y="152.5" width="1.8" height="2.8" fill="#ff0000"/>
<rect x="491.78" y="136.2" width="1.8" height="16.3" fill="#ff0000"/>
<rect x="493.94" y="136.6" width="1.8" height="3.1" fill="#00e600"/>
<rect x="496.10" y="139.6" width="1.8" height="8.7" fill="#00e600"/>
<rect x="498.26" y="129.5" width="1.8" height="18.7" fill="#ff0000"/>
<rect x="500.42" y="111.4" width="1.8" height="18.1" fill="#ff0000"/>
<rect x="502.58" y="109.7" width="1.8" height="1.9" fill="#ff0000"/>
<rect x="504.74" y="108.6" width="1.8" height="10.4" fill="#00e600"/>
<rect x="506.90" y="119.5" width="1.8" height="2.3" fill="#00e600"/>
<rect x="509.06" y="118.0" width="1.8" height="3.8" fill="#ff0000"/>
<rect x="511.22" y="118.3" width="1.8" height="2.3" fill="#00e600"/>
<rect x="513.38" y="120.7" width="1.8" height="5.1" fill="#00e600"/>
<rect x="515.54" y="126.0" width="1.8" height="17.4" fill="#00e600"/>
<rect x="517.70" y="143.2" width="1.8" height="13.3" fill="#00e600"/>
<rect x="519.86" y="142.6" width="1.8" height="14.0" fill="#ff0000"/>
<rect x="522.02" y="142.6" width="1.8" height="22.5" fill="#00e600"/>
<rect x="524.18" y="165.6" width="1.8" height="1.0" fill="#00e600"/>
<rect x="526.34" y="165.8" width="1.8" height="0.8" fill="#00e600"/>
<rect x="528.50" y="160.6" width="1.8" height="6.0" fill="#ff0000"/>
<rect x="530.66" y="160.3" width="1.8" height="14.1" fill="#00e600"/>
<rect x="532.82" y="150.8" width="1.8" height="22.9" fill="#ff0000"/>
<rect x="534.98" y="151.5" width="1.8" height="8.7" fill="#00e600"/>
<rect x="537.14" y="160.3" width="1.8" height="21.1" fill="#00e600"/>
<rect x="539.30" y="107.9" width="1.8" height="73.5" fill="#ff0000"/>
<rect x="541.46" y="107.7" width="1.8" height="6.7" fill="#00e600"/>
<rect x="543.62" y="101.4" width="1.8" height="12.8" fill="#ff0000"/>
<rect x="545.78" y="85.7" width="1.8" height="15.0" fill="#ff0000"/>
<rect x="547.94" y="62.2" width="1.8" height="23.1" fill="#ff0000"/>
<rect x="550.10" y="62.5" width="1.8" height="30.4" fill="#00e600"/>
<rect x="552.26" y="92.6" width="1.8" height="4.0" fill="#00e600"/>
<rect x="554.42" y="90.8" width="1.8" height="6.1" fill="#ff0000"/>
<rect x="556.58" y="71.6" width="1.8" height="19.1" fill="#ff0000"/>
<rect x="558.74" y="63.9" width="1.8" height="8.0" fill="#ff0000"/>
<rect x="560.90" y="64.5" width="1.8" height="6.3" fill="#00e600"/>
<rect x="563.06" y="52.4" width="1.8" height="18.1" fill="#ff0000"/>
<rect x="565.22" y="53.1" width="1.8" height="3.8" fill="#00e600"/>
<rect x="567.38" y="57.3" width="1.8" height="14.2" fill="#00e600"/>
<rect x="569.54" y="71.0" width="1.8" height="4.0" fill="#00e600"/>
<rect x="571.70" y="69.7" width="1.8" height="5.9" fill="#ff0000"/>
<rect x="573.86" y="69.6" width="1.8" height="16.4" fill="#00e600"/>
<rect x="576.02" y="73.3" width="1.8" height="13.2" fill="#ff0000"/>
<rect x="578.18" y="63.7" width="1.8" height="10.4" fill="#ff0000"/>
<rect x="580.34" y="60.9" width="1.8" height="2.6" fill="#ff0000"/>
<rect x="582.50" y="61.2" width="1.8" height="17.8" fill="#00e600"/>
<rect x="584.66" y="78.4" width="1.8" height="0.8" fill="#ff0000"/>
<rect x="586.82" y="72.1" width="1.8" height="6.9" fill="#ff0000"/>
<rect x="588.98" y="72.2" width="1.8" height="0.8" fill="#00e600"/>
<rect x="591.14" y="72.5" width="1.8" height="12.7" fill="#00e600"/>
<rect x="593.30" y="73.7" width="1.8" height="11.6" fill="#ff0000"/>
<rect x="595.46" y="59.4" width="1.8" height="14.4" fill="#ff0000"/>
<rect x="597.62" y="57.9" width="1.8" height="1.4" fill="#ff0000"/>
<rect x="599.78" y="58.1" width="1.8" height="1.4" fill="#00e600"/>
<rect x="601.94" y="53.7" width="1.8" height="5.5" fill="#ff0000"/>
<rect x="604.10" y="52.9" width="1.8" height="1.8" fill="#00e600"/>
<rect x="606.26" y="46.5" width="1.8" height="7.8" fill="#ff0000"/>
<rect x="608.42" y="46.0" width="1.8" height="1.6" fill="#00e600"/>
<rect x="610.58" y="43.6" width="1.8" height="4.3" fill="#ff0000"/>
<rect x="612.74" y="43.6" width="1.8" height="15.6" fill="#00e600"/>
<rect x="614.90" y="55.3" width="1.8" height="3.8" fill="#ff0000"/>
<rect x="617.06" y="54.7" width="1.8" height="0.8" fill="#ff0000"/>
<rect x="619.22" y="54.8" width="1.8" height="5.5" fill="#00e600"/>
<rect x="621.38" y="55.2" width="1.8" height="4.6" fill="#ff0000"/>
<rect x="623.54" y="51.7" width="1.8" height="2.8" fill="#ff0000"/>
<rect x="625.70" y="51.0" width="1.8" height="6.3" fill="#00e600"/>
<rect x="627.86" y="57.0" width="1.8" height="2.5" fill="#00e600"/>
<rect x="630.02" y="60.0" width="1.8" height="0.8" fill="#ff0000"/>
<rect x="632.18" y="60.1" width="1.8" height="4.7" fill="#00e600"/>
<rect x="634.34" y="56.6" width="1.8" height="8.8" fill="#ff0000"/>
<rect x="636.50" y="52.6" width="1.8" height="4.1" fill="#ff0000"/>
<rect x="638.66" y="52.1" width="1.8" height="2.0" fill="#00e600"/>
<rect x="640.82" y="54.6" width="1.8" height="10.1" fill="#00e600"/>
<rect x="642.98" y="63.8" width="1.8" height="1.5" fill="#ff0000"/>
<rect x="645.14" y="64.5" width="1.8" height="2.4" fill="#00e600"/>
<rect x="647.30" y="51.3" width="1.8" height="15.1" fill="#ff0000"/>
<rect x="649.46" y="51.4" width="1.8" height="14.2" fill="#00e600"/>
<rect x="651.62" y="63.4" width="1.8" height="1.6" fill="#ff0000"/>
<rect x="653.78" y="56.4" width="1.8" height="6.7" fill="#ff0000"/>
<rect x="655.94" y="36.6" width="1.8" height="19.9" fill="#ff0000"/>
<rect x="658.10" y="25.8" width="1.8" height="9.5" fill="#ff0000"/>
<polyline points="2.5,289.2 8.8,290.0 12.5,296.0 15.0,300.0 17.5,300.0 20.0,297.5 23.8,300.0 28.8,303.8 33.8,305.5 36.2,305.5 38.8,300.0 41.2,290.0 43.8,280.0 46.2,265.0 48.8,245.0 50.0,232.5 52.5,223.8 56.2,220.0 60.0,220.5 61.9,225.0 64.7,236.2 67.5,245.6 70.3,243.8 74.1,241.0 77.8,239.6 79.7,242.8 82.5,249.4 85.3,256.0 88.1,264.4 90.0,271.0 91.9,271.9 93.8,269.0 96.6,256.9 98.5,243.8 100.3,237.2 103.2,235.3 106.0,237.2 108.4,242.8 110.7,241.0 114.4,238.1 117.2,234.0 119.7,234.4 121.9,241.9 124.7,250.3 128.5,259.7 132.2,268.2 135.0,275.7 136.9,285.0 138.3,294.2 141.6,298.5 143.2,300.4 146.7,296.9 150.8,292.8 152.9,288.0 155.7,286.0 159.4,285.0 162.2,283.2 165.1,285.0 168.8,286.9 171.6,285.0 173.5,283.2 175.4,288.8 178.2,291.6 180.0,294.2 182.1,299.7 183.5,303.5 186.6,302.5 191.3,303.2 195.3,302.5 200.8,301.1 205.0,305.3 209.2,310.8 213.3,315.7 216.1,317.8 218.9,315.7 224.4,313.6 230.0,310.8 235.6,308.0 240.0,302.8 244.7,301.2 249.4,298.1 252.5,296.6 254.8,295.8 257.2,298.1 260.3,301.2 263.4,307.5 266.6,313.8 269.7,316.9 273.6,316.9 276.7,313.8 279.0,312.2 281.4,309.0 283.8,304.4 285.3,298.1 287.5,291.0 292.5,285.0 296.0,281.0 298.5,283.0 300.5,288.0 302.5,292.5 305.0,275.0 307.5,262.0 311.7,253.6 315.0,247.5 318.5,246.8 322.5,250.8 325.2,267.0 328.0,269.8 330.7,264.4 335.0,266.0 340.0,271.0 343.0,269.0 347.0,265.7 352.5,259.0 355.0,259.0 358.1,260.0 360.0,263.8 361.2,271.2 362.5,280.0 363.8,288.8 365.6,296.2 366.9,298.1 368.8,296.2 371.2,291.2 373.1,282.5 375.0,273.8 376.9,271.5 378.8,272.5 381.2,276.2 383.1,278.8 385.0,279.0 387.5,280.0 388.8,280.6 391.0,274.0 392.5,266.0 394.0,260.0 395.5,240.0 397.0,196.0 397.8,164.2 398.8,150.3 399.8,134.5 400.7,116.7 401.7,104.8 403.7,96.9 405.7,94.5 407.7,96.9 409.6,104.8 411.0,116.7 412.6,130.5 414.0,144.4 415.2,160.2 416.6,164.2 419.6,165.2 420.9,170.1 422.5,176.0 424.0,177.0 425.5,174.0 427.5,168.2 430.4,160.2 433.4,151.5 435.2,149.4 437.3,151.5 441.5,155.6 446.7,154.6 450.8,151.5 456.0,150.0 461.2,149.4 462.9,149.7 465.8,153.7 468.8,161.6 470.8,164.6 474.8,167.5 478.7,170.5 481.7,173.5 484.0,168.0 486.6,161.6 489.6,151.7 492.6,139.8 494.6,127.9 496.5,122.0 499.2,119.8 502.0,103.7 505.0,87.7 509.4,83.3 516.6,81.0 521.0,84.8 524.0,80.4 526.9,83.3 529.8,89.2 532.7,97.9 535.6,111.0 537.6,127.0 539.5,142.0 540.5,140.0 541.5,125.0 543.3,98.0 545.4,81.7 547.5,61.0 549.6,40.0 552.0,17.5 555.0,2.9 557.9,1.5 560.2,5.8 562.3,17.5 563.7,20.4 566.6,19.0 568.0,24.8 569.6,29.2 572.5,29.2 576.9,30.6 579.8,35.0 582.7,36.4 584.2,37.0 587.3,44.4 590.4,48.5 594.6,47.5 599.8,45.4 601.9,43.3 605.0,37.0 608.1,29.8 611.2,23.5 613.3,23.5 615.0,28.8 616.5,35.0 618.5,39.2 621.7,40.2 625.8,41.2 630.0,43.3 633.0,46.5 636.2,49.6 638.3,48.5 642.5,47.0 647.7,45.8 652.9,45.8 656.0,47.0 657.5,39.2 659.2,26.7 660.5,19.0" fill="none" stroke="#6262ff" stroke-width="0.95" stroke-linejoin="round" />
<polyline points="2.5,315.6 6.2,316.9 10.0,318.1 13.8,319.4 17.5,319.0 21.2,318.1 25.0,316.9 30.0,315.0 35.0,313.1 40.0,310.6 43.8,307.5 46.2,303.8 48.1,300.0 50.0,292.5 53.8,283.8 57.5,275.0 61.2,267.5 63.8,264.4 67.5,263.5 71.2,265.3 75.0,270.0 78.8,274.7 83.5,281.3 87.2,285.0 91.0,286.9 94.7,285.0 98.5,281.3 103.2,274.7 107.8,271.0 111.6,271.0 115.3,273.8 119.1,279.4 122.8,286.9 126.6,294.4 130.4,301.0 134.1,307.5 137.9,312.2 140.7,315.0 143.9,316.4 149.4,313.6 155.0,310.8 160.6,308.8 166.1,308.0 171.7,310.8 177.2,315.0 182.8,317.0 188.3,317.0 193.9,318.5 199.4,319.9 205.0,321.2 210.5,322.6 214.7,324.0 218.9,322.6 224.4,321.2 230.0,319.9 235.6,317.8 241.1,315.7 245.3,315.5 249.4,316.9 254.0,318.4 258.8,320.8 263.4,322.3 268.1,324.7 272.8,326.2 277.5,327.8 279.8,330.2 283.0,328.6 286.9,326.2 291.6,323.1 296.2,320.0 300.9,315.3 305.6,310.6 310.3,305.2 315.0,299.7 318.9,293.0 321.5,288.0 324.6,283.0 327.0,283.0 332.0,286.0 337.5,289.4 341.6,293.0 345.0,299.0 350.3,307.8 354.7,318.8 358.0,326.4 362.4,333.0 365.6,334.5 367.5,335.0 370.0,334.4 372.5,332.5 375.0,328.1 377.5,322.5 380.0,316.2 382.5,311.2 385.0,307.5 387.5,305.0 390.0,301.2 392.5,295.0 395.0,288.8 396.2,285.0 398.1,275.0 400.0,262.5 404.2,245.0 408.3,225.0 410.5,214.0 412.7,209.4 415.8,204.2 420.0,201.0 424.2,199.0 428.3,194.8 432.5,189.6 436.7,184.4 440.4,181.7 445.6,176.5 448.8,177.5 450.0,177.4 455.9,179.4 461.9,182.4 467.8,184.4 471.8,185.3 475.7,186.0 479.7,185.3 483.7,183.4 487.6,179.4 491.6,173.5 495.5,166.5 499.5,159.6 503.5,149.7 507.4,139.8 511.4,132.9 515.3,129.9 518.3,129.5 521.3,131.9 525.2,135.8 528.3,140.2 531.0,147.0 534.1,153.3 538.5,160.0 542.0,155.0 546.0,147.0 550.6,138.0 555.8,119.2 561.0,96.2 564.2,81.7 567.3,73.3 569.4,69.2 572.5,71.2 576.7,70.2 579.8,67.0 582.9,68.1 584.2,69.4 588.3,72.5 592.5,73.5 596.7,72.5 600.8,70.4 605.0,66.2 609.2,62.0 613.3,56.9 617.5,54.8 621.7,54.2 625.8,54.2 630.0,54.8 634.2,56.9 638.3,58.3 642.5,59.0 646.7,59.6 650.8,60.0 655.0,59.0 658.1,56.9 660.5,56.3" fill="none" stroke="#6262ff" stroke-width="0.95" stroke-linejoin="round" />
<polyline points="2.5,342.5 5.0,343.1 7.2,344.0 9.4,340.0 12.5,338.1 15.6,337.2 19.4,339.0 21.9,336.2 24.4,329.4 26.9,324.4 29.4,321.9 32.5,320.6 35.6,319.0 37.2,320.0 38.1,325.0 40.0,330.0 43.1,332.5 45.6,335.6 47.5,341.2 49.4,349.4 50.6,352.5 52.5,350.6 55.0,342.5 57.5,332.5 60.0,321.2 62.5,310.0 64.4,300.0 65.6,283.2 67.5,279.4 70.3,286.9 72.2,295.4 74.1,301.9 75.9,308.5 78.8,311.3 82.5,310.4 85.3,311.3 88.1,307.5 91.0,303.8 93.8,305.6 96.6,312.2 100.0,317.5 102.2,315.0 105.0,307.5 107.8,298.2 109.2,297.2 110.7,301.9 113.5,307.5 117.5,317.5 122.5,328.8 127.5,335.0 130.0,337.9 134.2,342.8 136.9,335.8 138.0,335.4 139.7,334.2 143.0,334.2 145.3,336.5 151.3,336.5 154.2,340.4 157.6,336.2 159.7,333.3 161.8,333.5 164.7,330.0 166.1,329.6 168.2,331.7 170.3,334.4 173.0,338.6 176.5,339.3 179.3,338.6 181.4,335.1 182.8,331.7 185.6,331.0 189.7,331.7 193.9,331.0 196.7,331.7 199.4,333.8 202.2,335.8 205.0,335.8 207.8,335.1 211.9,333.0 214.7,331.0 217.5,328.9 221.7,329.6 227.2,330.3 232.8,329.6 236.9,328.9 240.0,328.6 244.7,327.0 247.8,328.6 251.7,337.2 254.0,341.1 257.2,341.9 259.5,345.0 261.9,342.7 265.0,339.5 269.7,338.8 273.6,338.8 276.7,341.9 279.0,346.6 282.2,349.7 285.3,355.9 288.4,359.0 293.0,358.3 295.5,357.5 297.8,348.1 300.2,335.6 301.7,326.2 303.0,322.3 304.0,326.2 305.6,334.0 307.2,340.3 309.5,345.0 311.9,345.0 315.0,340.3 318.1,332.5 320.0,325.0 322.6,305.0 324.5,290.0 325.5,285.0 327.0,295.0 328.7,306.3 332.0,307.0 337.5,310.4 341.6,311.5 344.0,319.0 346.3,328.7 350.3,347.2 353.6,360.3 355.8,371.3 357.0,378.0 362.0,378.0 364.5,374.6 367.0,373.8 370.0,374.6 372.0,378.0 377.7,377.0 379.9,362.5 382.0,347.2 385.3,336.3 388.6,326.4 390.8,327.5 393.0,334.0 394.1,347.2 396.3,366.9 397.4,378.0 405.0,378.0 407.2,362.5 409.4,329.7 411.6,296.9 412.7,275.0 413.8,248.0 414.8,235.4 416.9,230.2 420.0,228.1 422.1,220.8 423.8,212.5 425.2,216.7 427.3,224.0 430.4,228.1 433.5,226.0 436.7,219.8 439.4,211.9 443.5,202.5 446.7,196.2 449.8,198.3 452.9,204.6 456.0,210.8 460.2,208.8 465.4,207.7 470.0,204.4 473.1,205.4 476.2,202.3 479.4,201.2 482.5,198.1 485.6,203.3 488.8,211.7 491.9,215.8 495.0,219.0 498.1,209.6 501.2,200.2 504.4,203.3 507.0,198.0 509.6,192.9 512.7,184.6 515.8,178.3 518.0,174.0 520.0,171.0 521.5,169.5 523.0,176.0 525.2,186.7 528.3,195.0 531.5,202.3 534.6,201.2 536.7,192.9 538.5,186.0 540.8,190.8 541.9,207.5 543.7,218.6 545.6,222.3 547.5,229.8 549.2,236.7 551.2,252.3 552.5,255.0 553.5,252.0 555.4,238.8 557.5,226.2 560.0,199.2 562.5,177.4 564.3,158.6 566.2,136.2 567.5,125.0 568.5,118.0 571.5,115.0 574.6,114.0 577.7,100.4 579.8,95.2 584.0,96.2 587.1,99.0 591.2,100.4 595.4,101.5 600.8,102.7 607.0,104.8 610.2,105.8 612.3,97.5 614.4,85.0 616.5,74.6 619.6,72.5 623.8,70.8 630.0,69.4 637.5,69.5 642.5,72.5 645.6,73.5 647.7,76.2 651.9,76.7 656.0,76.7 658.1,81.9 660.5,92.0" fill="none" stroke="#6262ff" stroke-width="0.95" stroke-linejoin="round" />
<polygon points="145.01,341.35 276.03,340.04 276.05,340.99 281.00,338.30 275.95,335.79 275.97,336.74 144.99,340.05" fill="#ffb000"/>
<polygon points="408.00,188.20 529.41,188.82 529.41,190.22 535.00,187.20 529.39,184.22 529.39,185.62 408.00,187.00" fill="#ffb000"/>
<polygon points="549.99,67.45 648.98,69.49 648.97,70.59 655.00,67.90 649.03,65.09 649.02,66.19 550.01,66.15" fill="#ffb000"/>
<polygon points="365.84,349.08 706.31,35.49 707.77,37.07 710.00,29.90 702.68,31.56 704.14,33.14 364.96,348.12" fill="#ff0000"/>
</g>
<g clip-path="url(#sc)">
<polyline points="2.4,446.0 4.5,437.9 6.7,430.6 8.8,418.4 11.0,411.3 13.2,409.7 15.3,409.2 17.5,407.9 19.6,407.6 21.8,411.3 24.0,418.0 26.1,424.1 28.3,427.2 30.4,425.9 32.6,418.4 34.8,406.4 36.9,394.7 39.1,388.1 41.2,387.1 43.4,389.4 45.6,392.2 47.7,393.4 49.9,392.7 52.0,392.2 54.2,394.0 56.4,399.5 58.5,407.7 60.7,419.6 62.8,433.1 65.0,444.7 67.2,450.5 69.3,451.9 71.5,452.1 73.6,453.0 75.8,453.3 78.0,452.9 80.1,450.9 82.3,446.2 84.4,441.0 86.6,434.9 88.8,425.8 90.9,408.3 93.1,393.3 95.2,385.6 97.4,387.6 99.6,389.8 101.7,392.8 103.9,404.0 106.0,423.2 108.2,442.6 110.4,452.3 112.5,450.9 114.7,446.5 116.8,444.1 119.0,445.8 121.2,448.8 123.3,449.7 125.5,446.2 127.6,439.7 129.8,433.5 132.0,430.7 134.1,430.6 136.3,430.8 138.4,428.6 140.6,420.9 142.8,410.1 144.9,400.1 147.1,396.1 149.2,397.0 151.4,398.4 153.6,399.3 155.7,399.8 157.9,403.0 160.0,409.8 162.2,416.3 164.4,419.7 166.5,417.8 168.7,416.2 170.8,416.6 173.0,419.4 175.2,422.1 177.3,421.5 179.5,416.6 181.6,409.6 183.8,404.7 186.0,405.5 188.1,413.2 190.3,423.9 192.4,432.5 194.6,436.3 196.8,438.5 198.9,441.2 201.1,441.3 203.2,434.8 205.4,423.2 207.6,412.3 209.7,410.1 211.9,416.3 214.0,426.7 216.2,430.3 218.4,424.3 220.5,412.7 222.7,404.0 224.8,401.1 227.0,399.8 229.2,402.0 231.3,407.9 233.5,414.0 235.6,414.9 237.8,410.4 240.0,407.9 242.1,409.8 244.3,417.4 246.4,427.8 248.6,437.7 250.8,443.5 252.9,444.8 255.1,443.9 257.2,442.1 259.4,439.1 261.6,433.2 263.7,423.6 265.9,416.6 268.0,416.5 270.2,423.1 272.4,430.5 274.5,435.2 276.7,437.0 278.8,433.6 281.0,423.5 283.2,409.4 285.3,396.8 287.5,389.9 289.6,389.4 291.8,394.1 294.0,402.3 296.1,411.6 298.3,421.7 300.4,429.6 302.6,429.4 304.8,418.0 306.9,403.2 309.1,393.9 311.2,393.5 313.4,398.3 315.6,406.3 317.7,416.3 319.9,424.6 322.0,428.2 324.2,425.7 326.4,425.9 328.5,427.6 330.7,430.2 332.8,425.8 335.0,423.7 337.2,422.1 339.3,423.1 341.5,422.2 343.6,426.0 345.8,434.5 348.0,442.9 350.1,447.2 352.3,447.0 354.4,445.4 356.6,443.9 358.8,442.4 360.9,439.3 363.1,428.6 365.2,413.0 367.4,399.9 369.6,394.6 371.7,394.1 373.9,394.9 376.0,398.0 378.2,403.7 380.4,406.1 382.5,404.1 384.7,401.0 386.8,401.4 389.0,406.0 391.2,408.8 393.3,407.0 395.5,401.1 397.6,394.7 399.8,390.4 402.0,388.9 404.1,390.8 406.3,398.5 408.4,412.3 410.6,428.2 412.8,440.3 414.9,445.3 417.1,441.8 419.2,430.9 421.4,414.8 423.6,399.5 425.7,389.1 427.9,385.7 430.0,387.9 432.2,393.1 434.4,400.6 436.5,412.4 438.7,430.1 440.8,438.6 443.0,434.0 445.2,416.3 447.3,405.6 449.5,406.7 451.6,418.2 453.8,431.7 456.0,438.6 458.1,435.3 460.3,423.6 462.4,413.0 464.6,411.3 466.8,419.2 468.9,430.3 471.1,439.1 473.2,442.4 475.4,439.6 477.6,432.1 479.7,420.8 481.9,407.3 484.0,395.2 486.2,387.7 488.4,385.8 490.5,386.3 492.7,387.0 494.8,389.9 497.0,399.2 499.2,411.4 501.3,416.4 503.5,408.4 505.6,397.9 507.8,394.6 510.0,400.1 512.1,407.6 514.3,414.7 516.4,422.0 518.6,430.4 520.8,440.9 522.9,450.3 525.1,455.3 527.2,453.9 529.4,448.5 531.6,441.8 533.7,434.6 535.9,429.0 538.0,428.9 540.2,424.8 542.4,418.5 544.5,407.4 546.7,401.2 548.8,396.1 551.0,392.1 553.2,390.5 555.3,393.6 557.5,401.0 559.6,405.9 561.8,406.1 564.0,401.1 566.1,397.5 568.3,397.6 570.4,402.4 572.6,415.3 574.8,430.1 576.9,437.5 579.1,431.5 581.2,419.4 583.4,413.4 585.6,415.8 587.7,424.3 589.9,433.3 592.0,441.8 594.2,441.3 596.4,429.7 598.5,408.9 600.7,392.6 602.8,386.3 605.0,386.9 607.2,387.1 609.3,386.8 611.5,388.2 613.6,396.6 615.8,412.0 618.0,431.6 620.1,444.3 622.3,445.5 624.4,437.2 626.6,428.3 628.8,422.0 630.9,422.9 633.1,429.9 635.2,434.8 637.4,429.1 639.6,417.1 641.7,410.8 643.9,416.8 646.0,430.1 648.2,439.2 650.4,438.0 652.5,427.6 654.7,415.0 656.8,403.2 659.0,392.5" fill="none" stroke="#ff5050" stroke-width="1.0" stroke-linejoin="round" stroke-dasharray="1.2,1.8"/>
<polyline points="2.5,446.0 5.0,426.0 7.5,411.0 10.0,408.0 12.5,409.8 13.8,412.0 16.2,405.5 18.0,404.8 20.0,411.0 22.5,422.2 25.0,427.2 28.0,429.0 30.0,424.8 32.5,406.0 35.0,391.0 37.5,384.8 39.5,386.0 42.0,391.0 44.5,394.8 47.5,393.0 50.0,391.0 53.0,393.5 55.5,403.5 58.8,418.5 61.2,438.5 63.8,453.5 66.2,451.0 70.0,452.2 73.8,454.0 77.5,452.2 80.0,448.5 83.0,436.0 85.0,436.0 87.5,426.0 89.5,403.5 90.8,383.5 92.5,383.5 95.0,388.5 98.2,389.8 101.2,393.5 103.0,408.5 104.5,433.5 106.2,451.0 108.0,456.0 110.0,453.5 112.5,444.8 115.0,442.2 117.5,446.0 120.0,452.2 122.5,451.0 125.0,441.0 127.5,432.2 130.0,429.0 133.8,432.2 136.2,429.8 138.8,423.5 141.2,403.5 143.8,393.5 146.2,394.8 148.8,400.5 151.2,398.5 155.0,399.8 157.5,406.0 160.5,422.2 163.8,419.8 167.0,413.0 170.0,418.5 173.8,423.5 176.2,424.8 178.0,413.5 180.5,403.5 183.8,403.0 186.2,411.0 188.0,426.0 190.5,436.0 193.8,436.0 197.0,442.2 198.8,444.8 201.2,437.2 203.8,418.5 206.2,404.8 208.2,405.5 210.5,421.0 213.0,433.5 213.8,437.2 215.5,433.5 217.5,413.5 220.0,402.2 222.5,400.5 225.0,401.0 227.0,398.0 229.5,408.5 232.0,422.2 234.5,412.2 238.0,404.8 240.5,409.8 243.0,418.5 245.0,433.5 247.5,444.8 251.2,445.5 255.0,442.2 258.8,438.5 261.2,426.0 263.0,416.0 264.5,406.5 266.2,416.0 268.8,427.2 272.0,436.0 275.5,439.0 278.0,433.5 280.0,416.0 282.5,396.0 285.0,388.5 287.5,387.2 290.0,393.5 292.5,406.0 296.2,421.0 298.8,435.5 300.5,435.5 302.5,421.0 305.0,396.0 307.5,389.8 310.0,393.5 312.5,401.0 315.0,413.5 318.8,432.2 322.0,427.2 324.5,418.5 326.8,433.5 328.8,432.2 331.2,426.0 333.2,415.5 335.0,426.0 337.5,422.2 340.0,419.8 342.0,424.8 343.8,434.8 346.2,448.5 348.8,448.5 351.2,446.0 355.0,443.5 358.8,441.0 361.2,433.5 363.0,411.0 365.5,392.2 368.0,396.0 372.0,392.2 375.0,401.0 378.8,411.0 380.8,403.5 383.2,395.5 385.8,403.5 389.5,413.0 392.0,406.0 395.0,394.8 398.0,388.5 401.2,388.0 403.8,392.2 406.2,411.0 408.8,433.5 411.2,446.0 413.8,448.5 415.8,443.5 418.8,418.5 422.5,388.5 425.5,383.0 428.0,387.2 430.5,394.8 433.0,401.0 435.0,413.5 437.0,433.5 439.0,455.5 440.5,438.5 442.5,418.5 445.5,396.5 447.5,403.5 449.5,418.5 452.0,436.0 454.0,444.0 456.2,438.5 458.8,418.5 460.8,404.8 463.0,408.5 465.0,421.0 467.5,436.0 470.0,444.8 472.5,444.8 474.5,436.0 477.0,426.0 480.0,406.0 482.5,387.2 485.0,384.8 487.5,386.0 490.5,387.2 493.0,387.2 495.0,396.0 497.5,419.8 499.5,424.8 501.2,411.0 502.5,396.0 504.2,387.2 506.2,394.8 508.8,403.5 511.2,412.2 513.8,419.8 516.2,428.5 518.8,441.0 521.2,456.0 523.8,458.5 526.2,452.2 528.8,443.5 531.2,436.0 534.5,424.8 536.2,424.8 538.0,434.8 539.5,419.8 541.2,408.5 544.5,401.0 547.0,396.0 549.5,389.0 552.0,388.5 554.5,396.0 557.5,411.0 560.0,406.0 562.5,398.5 565.0,394.0 567.5,398.5 570.0,406.0 572.0,426.0 573.8,451.0 576.2,437.2 578.8,419.8 580.0,407.2 582.5,411.0 585.0,421.0 588.0,436.0 590.5,443.5 592.5,451.0 593.8,438.5 595.8,413.5 598.0,389.8 599.5,381.0 602.0,387.2 604.1,389.5 606.0,387.3 607.5,383.9 609.4,387.3 611.2,391.0 613.1,404.1 615.0,424.8 616.9,445.4 618.4,453.9 620.3,447.3 622.5,436.0 624.8,424.8 627.2,420.1 629.1,417.7 630.4,424.8 631.9,437.9 633.4,443.5 634.9,436.0 636.6,419.2 638.1,406.4 640.0,406.4 641.7,413.5 643.2,424.8 645.0,439.8 646.5,449.2 648.4,439.8 650.7,424.8 653.5,409.8 656.3,393.8 659.0,382.8" fill="none" stroke="#5cc8c0" stroke-width="1.0" stroke-linejoin="round" />
</g>
<polygon points="4.4,6.2 9,6.2 6.7,8.6" fill="#1010c0"/>
<text x="12.20" y="10.20" textLength="44.40" lengthAdjust="spacingAndGlyphs" style="font-family:'Liberation Sans','Noto Sans CJK SC',sans-serif;font-weight:bold;font-size:6.6px;fill:#3636e6">XAUUSD#,M15</text>
<text x="61.60" y="10.20" textLength="24.40" lengthAdjust="spacingAndGlyphs" style="font-family:'Liberation Sans','Noto Sans CJK SC',sans-serif;font-weight:bold;font-size:6.6px;fill:#3636e6">1758.01</text>
<text x="88.30" y="10.20" textLength="24.40" lengthAdjust="spacingAndGlyphs" style="font-family:'Liberation Sans','Noto Sans CJK SC',sans-serif;font-weight:bold;font-size:6.6px;fill:#3636e6">1760.07</text>
<text x="115.50" y="10.20" textLength="24.40" lengthAdjust="spacingAndGlyphs" style="font-family:'Liberation Sans','Noto Sans CJK SC',sans-serif;font-weight:bold;font-size:6.6px;fill:#3636e6">1757.94</text>
<text x="142.20" y="10.20" textLength="24.40" lengthAdjust="spacingAndGlyphs" style="font-family:'Liberation Sans','Noto Sans CJK SC',sans-serif;font-weight:bold;font-size:6.6px;fill:#3636e6">1759.35</text>
<text x="5.30" y="384.60" textLength="91.70" lengthAdjust="spacingAndGlyphs" style="font-family:'Liberation Sans','Noto Sans CJK SC',sans-serif;font-weight:bold;font-size:7.2px;fill:#3636e6;font-weight:normal;stroke:#3636e6;stroke-width:0.25">Stoch(5,3,3) 93.3930 84.1307</text>
<rect x="829" y="20" width="2" height="1" fill="#5c5ce6"/>
<text x="833.70" y="23.54" textLength="24.30" lengthAdjust="spacingAndGlyphs" style="font-family:'Liberation Sans','Noto Sans CJK SC',sans-serif;font-weight:bold;font-size:7.3px;fill:#3636e6;font-weight:normal;stroke:#3636e6;stroke-width:0.25">1760.10</text>
<rect x="829" y="47" width="2" height="1" fill="#5c5ce6"/>
<text x="833.70" y="50.00" textLength="24.30" lengthAdjust="spacingAndGlyphs" style="font-family:'Liberation Sans','Noto Sans CJK SC',sans-serif;font-weight:bold;font-size:7.3px;fill:#3636e6;font-weight:normal;stroke:#3636e6;stroke-width:0.25">1756.35</text>
<rect x="829" y="73" width="2" height="1" fill="#5c5ce6"/>
<text x="833.70" y="76.46" textLength="24.30" lengthAdjust="spacingAndGlyphs" style="font-family:'Liberation Sans','Noto Sans CJK SC',sans-serif;font-weight:bold;font-size:7.3px;fill:#3636e6;font-weight:normal;stroke:#3636e6;stroke-width:0.25">1752.65</text>
<rect x="829" y="99" width="2" height="1" fill="#5c5ce6"/>
<text x="833.70" y="102.92" textLength="24.30" lengthAdjust="spacingAndGlyphs" style="font-family:'Liberation Sans','Noto Sans CJK SC',sans-serif;font-weight:bold;font-size:7.3px;fill:#3636e6;font-weight:normal;stroke:#3636e6;stroke-width:0.25">1748.90</text>
<rect x="829" y="126" width="2" height="1" fill="#5c5ce6"/>
<text x="833.70" y="129.38" textLength="24.30" lengthAdjust="spacingAndGlyphs" style="font-family:'Liberation Sans','Noto Sans CJK SC',sans-serif;font-weight:bold;font-size:7.3px;fill:#3636e6;font-weight:normal;stroke:#3636e6;stroke-width:0.25">1745.15</text>
<rect x="829" y="152" width="2" height="1" fill="#5c5ce6"/>
<text x="833.70" y="155.84" textLength="24.30" lengthAdjust="spacingAndGlyphs" style="font-family:'Liberation Sans','Noto Sans CJK SC',sans-serif;font-weight:bold;font-size:7.3px;fill:#3636e6;font-weight:normal;stroke:#3636e6;stroke-width:0.25">1741.40</text>
<rect x="829" y="179" width="2" height="1" fill="#5c5ce6"/>
<text x="833.70" y="182.30" textLength="24.30" lengthAdjust="spacingAndGlyphs" style="font-family:'Liberation Sans','Noto Sans CJK SC',sans-serif;font-weight:bold;font-size:7.3px;fill:#3636e6;font-weight:normal;stroke:#3636e6;stroke-width:0.25">1737.65</text>
<rect x="829" y="205" width="2" height="1" fill="#5c5ce6"/>
<text x="833.70" y="208.76" textLength="24.30" lengthAdjust="spacingAndGlyphs" style="font-family:'Liberation Sans','Noto Sans CJK SC',sans-serif;font-weight:bold;font-size:7.3px;fill:#3636e6;font-weight:normal;stroke:#3636e6;stroke-width:0.25">1733.95</text>
<rect x="829" y="232" width="2" height="1" fill="#5c5ce6"/>
<text x="833.70" y="235.22" textLength="24.30" lengthAdjust="spacingAndGlyphs" style="font-family:'Liberation Sans','Noto Sans CJK SC',sans-serif;font-weight:bold;font-size:7.3px;fill:#3636e6;font-weight:normal;stroke:#3636e6;stroke-width:0.25">1730.20</text>
<rect x="829" y="258" width="2" height="1" fill="#5c5ce6"/>
<text x="833.70" y="261.68" textLength="24.30" lengthAdjust="spacingAndGlyphs" style="font-family:'Liberation Sans','Noto Sans CJK SC',sans-serif;font-weight:bold;font-size:7.3px;fill:#3636e6;font-weight:normal;stroke:#3636e6;stroke-width:0.25">1726.45</text>
<rect x="829" y="285" width="2" height="1" fill="#5c5ce6"/>
<text x="833.70" y="288.14" textLength="24.30" lengthAdjust="spacingAndGlyphs" style="font-family:'Liberation Sans','Noto Sans CJK SC',sans-serif;font-weight:bold;font-size:7.3px;fill:#3636e6;font-weight:normal;stroke:#3636e6;stroke-width:0.25">1722.70</text>
<rect x="829" y="311" width="2" height="1" fill="#5c5ce6"/>
<text x="833.70" y="314.60" textLength="24.30" lengthAdjust="spacingAndGlyphs" style="font-family:'Liberation Sans','Noto Sans CJK SC',sans-serif;font-weight:bold;font-size:7.3px;fill:#3636e6;font-weight:normal;stroke:#3636e6;stroke-width:0.25">1719.00</text>
<rect x="829" y="338" width="2" height="1" fill="#5c5ce6"/>
<text x="833.70" y="341.06" textLength="24.30" lengthAdjust="spacingAndGlyphs" style="font-family:'Liberation Sans','Noto Sans CJK SC',sans-serif;font-weight:bold;font-size:7.3px;fill:#3636e6;font-weight:normal;stroke:#3636e6;stroke-width:0.25">1715.25</text>
<rect x="829" y="364" width="2" height="1" fill="#5c5ce6"/>
<text x="833.70" y="367.52" textLength="24.30" lengthAdjust="spacingAndGlyphs" style="font-family:'Liberation Sans','Noto Sans CJK SC',sans-serif;font-weight:bold;font-size:7.3px;fill:#3636e6;font-weight:normal;stroke:#3636e6;stroke-width:0.25">1711.50</text>
<rect x="829.8" y="21.9" width="31.1" height="7.6" fill="#0000d0"/>
<text x="833.70" y="28.70" textLength="24.30" lengthAdjust="spacingAndGlyphs" style="font-family:'Liberation Sans','Noto Sans CJK SC',sans-serif;font-weight:bold;font-size:7.4px;fill:#ffffff;font-weight:normal;stroke:#ffffff;stroke-width:0.2">1759.35</text>
<rect x="829" y="377" width="2" height="1" fill="#5c5ce6"/>
<text x="833.70" y="383.40" textLength="10.40" lengthAdjust="spacingAndGlyphs" style="font-family:'Liberation Sans','Noto Sans CJK SC',sans-serif;font-weight:bold;font-size:7.3px;fill:#3636e6;font-weight:normal;stroke:#3636e6;stroke-width:0.25">100</text>
<rect x="829" y="395" width="2" height="1" fill="#5c5ce6"/>
<text x="833.70" y="397.30" textLength="6.90" lengthAdjust="spacingAndGlyphs" style="font-family:'Liberation Sans','Noto Sans CJK SC',sans-serif;font-weight:bold;font-size:7.3px;fill:#3636e6;font-weight:normal;stroke:#3636e6;stroke-width:0.25">80</text>
<rect x="829" y="448" width="2" height="1" fill="#5c5ce6"/>
<text x="833.70" y="450.90" textLength="6.90" lengthAdjust="spacingAndGlyphs" style="font-family:'Liberation Sans','Noto Sans CJK SC',sans-serif;font-weight:bold;font-size:7.3px;fill:#3636e6;font-weight:normal;stroke:#3636e6;stroke-width:0.25">20</text>
<rect x="829" y="466" width="2" height="1" fill="#5c5ce6"/>
<text x="833.70" y="464.80" textLength="3.50" lengthAdjust="spacingAndGlyphs" style="font-family:'Liberation Sans','Noto Sans CJK SC',sans-serif;font-weight:bold;font-size:7.3px;fill:#3636e6;font-weight:normal;stroke:#3636e6;stroke-width:0.25">0</text>
<rect x="2" y="466" width="1.4" height="1.6" fill="#5c5ce6"/>
<text x="2.55" y="475.00" textLength="34.20" lengthAdjust="spacingAndGlyphs" style="font-family:'Liberation Sans','Noto Sans CJK SC',sans-serif;font-weight:bold;font-size:8px;fill:#3636e6;font-weight:normal;stroke:#3636e6;stroke-width:0.25">25 Jul 2022</text>
<rect x="54" y="466" width="1.4" height="1.6" fill="#5c5ce6"/>
<text x="54.40" y="475.00" textLength="36.40" lengthAdjust="spacingAndGlyphs" style="font-family:'Liberation Sans','Noto Sans CJK SC',sans-serif;font-weight:bold;font-size:8px;fill:#3636e6;font-weight:normal;stroke:#3636e6;stroke-width:0.25">26 Jul 05:15</text>
<rect x="106" y="466" width="1.4" height="1.6" fill="#5c5ce6"/>
<text x="106.25" y="475.00" textLength="36.40" lengthAdjust="spacingAndGlyphs" style="font-family:'Liberation Sans','Noto Sans CJK SC',sans-serif;font-weight:bold;font-size:8px;fill:#3636e6;font-weight:normal;stroke:#3636e6;stroke-width:0.25">26 Jul 11:15</text>
<rect x="157" y="466" width="1.4" height="1.6" fill="#5c5ce6"/>
<text x="158.10" y="475.00" textLength="36.40" lengthAdjust="spacingAndGlyphs" style="font-family:'Liberation Sans','Noto Sans CJK SC',sans-serif;font-weight:bold;font-size:8px;fill:#3636e6;font-weight:normal;stroke:#3636e6;stroke-width:0.25">26 Jul 17:15</text>
<rect x="209" y="466" width="1.4" height="1.6" fill="#5c5ce6"/>
<text x="209.95" y="475.00" textLength="36.40" lengthAdjust="spacingAndGlyphs" style="font-family:'Liberation Sans','Noto Sans CJK SC',sans-serif;font-weight:bold;font-size:8px;fill:#3636e6;font-weight:normal;stroke:#3636e6;stroke-width:0.25">26 Jul 23:15</text>
<rect x="261" y="466" width="1.4" height="1.6" fill="#5c5ce6"/>
<text x="261.80" y="475.00" textLength="36.40" lengthAdjust="spacingAndGlyphs" style="font-family:'Liberation Sans','Noto Sans CJK SC',sans-serif;font-weight:bold;font-size:8px;fill:#3636e6;font-weight:normal;stroke:#3636e6;stroke-width:0.25">27 Jul 06:15</text>
<rect x="313" y="466" width="1.4" height="1.6" fill="#5c5ce6"/>
<text x="313.65" y="475.00" textLength="36.40" lengthAdjust="spacingAndGlyphs" style="font-family:'Liberation Sans','Noto Sans CJK SC',sans-serif;font-weight:bold;font-size:8px;fill:#3636e6;font-weight:normal;stroke:#3636e6;stroke-width:0.25">27 Jul 12:15</text>
<rect x="365" y="466" width="1.4" height="1.6" fill="#5c5ce6"/>
<text x="365.50" y="475.00" textLength="36.40" lengthAdjust="spacingAndGlyphs" style="font-family:'Liberation Sans','Noto Sans CJK SC',sans-serif;font-weight:bold;font-size:8px;fill:#3636e6;font-weight:normal;stroke:#3636e6;stroke-width:0.25">27 Jul 18:15</text>
<rect x="417" y="466" width="1.4" height="1.6" fill="#5c5ce6"/>
<text x="417.35" y="475.00" textLength="36.40" lengthAdjust="spacingAndGlyphs" style="font-family:'Liberation Sans','Noto Sans CJK SC',sans-serif;font-weight:bold;font-size:8px;fill:#3636e6;font-weight:normal;stroke:#3636e6;stroke-width:0.25">28 Jul 01:15</text>
<rect x="469" y="466" width="1.4" height="1.6" fill="#5c5ce6"/>
<text x="469.20" y="475.00" textLength="36.40" lengthAdjust="spacingAndGlyphs" style="font-family:'Liberation Sans','Noto Sans CJK SC',sans-serif;font-weight:bold;font-size:8px;fill:#3636e6;font-weight:normal;stroke:#3636e6;stroke-width:0.25">28 Jul 07:15</text>
<rect x="520" y="466" width="1.4" height="1.6" fill="#5c5ce6"/>
<text x="521.05" y="475.00" textLength="36.40" lengthAdjust="spacingAndGlyphs" style="font-family:'Liberation Sans','Noto Sans CJK SC',sans-serif;font-weight:bold;font-size:8px;fill:#3636e6;font-weight:normal;stroke:#3636e6;stroke-width:0.25">28 Jul 13:15</text>
<rect x="572" y="466" width="1.4" height="1.6" fill="#5c5ce6"/>
<text x="572.90" y="475.00" textLength="36.40" lengthAdjust="spacingAndGlyphs" style="font-family:'Liberation Sans','Noto Sans CJK SC',sans-serif;font-weight:bold;font-size:8px;fill:#3636e6;font-weight:normal;stroke:#3636e6;stroke-width:0.25">28 Jul 19:15</text>
<rect x="624" y="466" width="1.4" height="1.6" fill="#5c5ce6"/>
<text x="624.75" y="475.00" textLength="36.40" lengthAdjust="spacingAndGlyphs" style="font-family:'Liberation Sans','Noto Sans CJK SC',sans-serif;font-weight:bold;font-size:8px;fill:#3636e6;font-weight:normal;stroke:#3636e6;stroke-width:0.25">29 Jul 02:15</text>
<text x="669.4" y="20.6" textLength="147" lengthAdjust="spacingAndGlyphs" style="font-family:'Liberation Sans','Noto Sans CJK SC',sans-serif;fill:#3a3a3a;font-size:14.8px;stroke:#3a3a3a;stroke-width:0.25">阻力 1759.39至1763.23</text>
<text x="597.5" y="152.0" textLength="145.7" lengthAdjust="spacingAndGlyphs" style="font-family:'Liberation Sans','Noto Sans CJK SC',sans-serif;fill:#3a3a3a;font-size:14.8px;stroke:#3a3a3a;stroke-width:0.25">支撑 1740.98至1744.58</text>
<text x="5.2" y="371.2" textLength="192.6" lengthAdjust="spacingAndGlyphs" style="font-family:'Liberation Sans','Noto Sans CJK SC',sans-serif;fill:#3a3a3a;font-size:14.8px;stroke:#3a3a3a;stroke-width:0.25">2022年7月29日 黄金15分钟K线</text>
</svg></body></html>
